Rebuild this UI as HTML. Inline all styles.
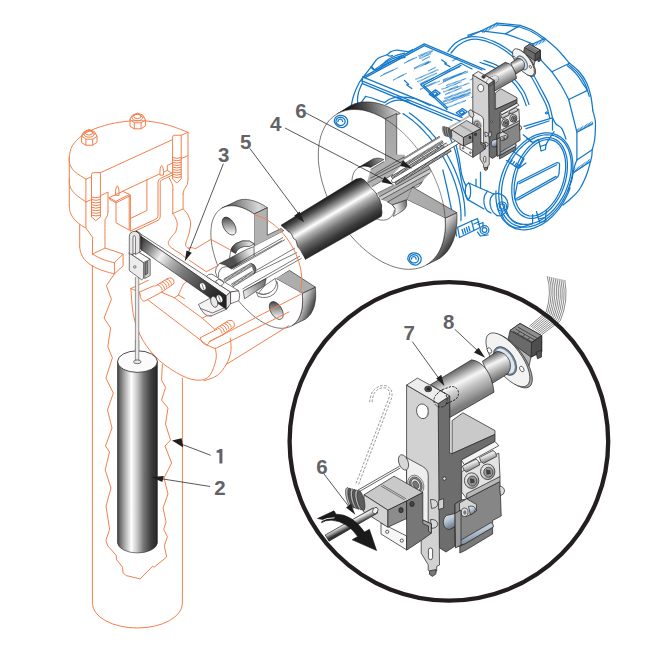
<!DOCTYPE html>
<html><head><meta charset="utf-8"><title>Level transmitter diagram</title>
<style>
html,body{margin:0;padding:0;background:#fff;}
body{width:648px;height:653px;overflow:hidden;font-family:"Liberation Sans",sans-serif;}
svg{display:block;}
.o{fill:none;stroke:#F3804E;stroke-width:1;stroke-linejoin:round;stroke-linecap:round;}
.b{fill:none;stroke:#1479C9;stroke-width:1.25;stroke-linejoin:round;stroke-linecap:round;}
.k{fill:none;stroke:#231F20;stroke-width:0.8;stroke-linejoin:round;stroke-linecap:round;}
.lab{font-family:"Liberation Sans",sans-serif;font-weight:bold;font-size:20.5px;fill:#626366;}
.ld{stroke:#231F20;stroke-width:0.75;fill:none;}
.ah{fill:#231F20;stroke:none;}
</style></head><body>
<svg width="648" height="653" viewBox="0 0 648 653">
<rect width="648" height="653" fill="#fff"/>
<!-- defs -->
<defs>
<linearGradient id="gFloat" x1="117.5" y1="0" x2="157.4" y2="0" gradientUnits="userSpaceOnUse">
<stop offset="0" stop-color="#3c3c3c"/><stop offset="0.06" stop-color="#6a6a6a"/><stop offset="0.2" stop-color="#b5b5b5"/><stop offset="0.35" stop-color="#ffffff"/><stop offset="0.5" stop-color="#c4c4c4"/><stop offset="0.66" stop-color="#747474"/><stop offset="0.84" stop-color="#3e3e3e"/><stop offset="1" stop-color="#262626"/>
</linearGradient>
<linearGradient id="gTube" x1="318.6" y1="202.2" x2="340.4" y2="239.2" gradientUnits="userSpaceOnUse">
<stop offset="0" stop-color="#1c1c1c"/><stop offset="0.12" stop-color="#4a4a4a"/><stop offset="0.28" stop-color="#a8a8a8"/><stop offset="0.4" stop-color="#ffffff"/><stop offset="0.52" stop-color="#b4b4b4"/><stop offset="0.7" stop-color="#6c6c6c"/><stop offset="0.88" stop-color="#3a3a3a"/><stop offset="1" stop-color="#262626"/>
</linearGradient>
<linearGradient id="gLever" x1="140" y1="240" x2="200" y2="280" gradientUnits="userSpaceOnUse">
<stop offset="0" stop-color="#3a3a3a"/><stop offset="0.2" stop-color="#8a8a8a"/><stop offset="0.38" stop-color="#f0f0f0"/><stop offset="0.6" stop-color="#909090"/><stop offset="1" stop-color="#4a4a4a"/>
</linearGradient>
</defs>

<!-- mechdefs -->
<defs>
<linearGradient id="mCyl" x1="462" y1="367" x2="478" y2="398" gradientUnits="userSpaceOnUse">
<stop offset="0" stop-color="#6e6e6e"/><stop offset="0.12" stop-color="#9a9a9a"/><stop offset="0.36" stop-color="#f6f6f6"/><stop offset="0.6" stop-color="#c4c4c4"/><stop offset="0.85" stop-color="#9a9a9a"/><stop offset="1" stop-color="#7c7c7c"/></linearGradient>
<linearGradient id="mNeck" x1="490" y1="356" x2="500" y2="377" gradientUnits="userSpaceOnUse">
<stop offset="0" stop-color="#6e6e6e"/><stop offset="0.35" stop-color="#f6f6f6"/><stop offset="0.7" stop-color="#b0b0b0"/><stop offset="1" stop-color="#777"/></linearGradient>
<linearGradient id="mPin" x1="0" y1="0" x2="0.35" y2="1">
<stop offset="0" stop-color="#e8eef4"/><stop offset="0.5" stop-color="#b8c6d4"/><stop offset="1" stop-color="#6f7f90"/></linearGradient>
<linearGradient id="mRoll" x1="0" y1="0" x2="0.5" y2="1">
<stop offset="0" stop-color="#555"/><stop offset="0.45" stop-color="#eee"/><stop offset="1" stop-color="#666"/></linearGradient>
<linearGradient id="mRod" x1="346" y1="520" x2="350" y2="528" gradientUnits="userSpaceOnUse">
<stop offset="0" stop-color="#3a3a3a"/><stop offset="0.35" stop-color="#f2f2f2"/><stop offset="0.65" stop-color="#a0a0a0"/><stop offset="1" stop-color="#333"/></linearGradient>
<radialGradient id="mScr" cx="0.4" cy="0.4" r="0.7"><stop offset="0" stop-color="#fff"/><stop offset="0.6" stop-color="#d0d0d0"/><stop offset="1" stop-color="#777"/></radialGradient>
<g id="mech">
<path d="M510 330.5 L520 323.4 L541.7 335.6 L541.7 351.8 L531 357 L524 366 L512 352 L508 340 Z" fill="#6a6a6a" stroke="#231F20" stroke-width="0.7" stroke-linejoin="round" vector-effect="non-scaling-stroke"/>
<path d="M514 345 L531 357 L529 366 L516 356 Z" fill="#b5b5b5" stroke="#231F20" stroke-width="0.7" stroke-linejoin="round" vector-effect="non-scaling-stroke"/>
<path d="M510 330.5 L520 323.4 L541.7 335.6 L531.5 342.6 Z" fill="#8f8f8f" stroke="#231F20" stroke-width="0.7" stroke-linejoin="round" vector-effect="non-scaling-stroke"/>
<path d="M531.5 342.6 L541.7 335.6 L541.7 351.8 L531 357 Z" fill="#4e4e4e" stroke="#231F20" stroke-width="0.7" stroke-linejoin="round" vector-effect="non-scaling-stroke"/>
<path d="M513 331 L533 342.5 M515.5 329 L535.5 340.5 M518 327.2 L538 338.6 M517 334 L520 331.6 M522 337 L525 334.6 M527 340 L530 337.6" stroke="#333" stroke-width="0.8" fill="none"/>
<path d="M536 352.5 L541.5 350 L541.5 357 L537.5 358.8 Z" fill="#555" stroke="#231F20" stroke-width="0.7" stroke-linejoin="round" vector-effect="non-scaling-stroke"/>
<ellipse cx="510.4" cy="361" rx="32" ry="13.6" transform="rotate(53.4 510.4 361)" fill="#a4a4a4" stroke="#231F20" stroke-width="0.7" stroke-linejoin="round" vector-effect="non-scaling-stroke"/>
<ellipse cx="507.9" cy="359.8" rx="32" ry="13.6" transform="rotate(53.4 507.9 359.8)" fill="#f3f3f3" stroke="#231F20" stroke-width="0.7" stroke-linejoin="round" vector-effect="non-scaling-stroke"/>
<ellipse cx="489.4" cy="350.5" rx="1.9" ry="3" transform="rotate(-30 489.4 350.5)" fill="#fff" stroke="#231F20" stroke-width="0.7" stroke-linejoin="round" vector-effect="non-scaling-stroke"/>
<ellipse cx="521.8" cy="369" rx="1.9" ry="3" transform="rotate(-30 521.8 369)" fill="#fff" stroke="#231F20" stroke-width="0.7" stroke-linejoin="round" vector-effect="non-scaling-stroke"/>
<ellipse cx="505" cy="361" rx="15" ry="8.6" transform="rotate(58 505 361)" fill="#dfe6ec" stroke="#6f8aa0" stroke-width="2"/>
<ellipse cx="505" cy="361" rx="15.9" ry="9.5" transform="rotate(58 505 361)" fill="none" stroke="#231F20" stroke-width="0.5"/>
<path d="M482.4 361.3 L497.1 351.3 Q505.5 352 509.5 360.5 Q512 368 507.9 373.6 L492 383.5 Z" fill="url(#mNeck)" stroke="#231F20" stroke-width="0.7" stroke-linejoin="round" vector-effect="non-scaling-stroke"/>
<path d="M452.1 420.6 L462.9 412.8 L495 430.6 L495 434.4 L452.1 453.7 Z" fill="#c9c9c9" stroke="#231F20" stroke-width="0.7" stroke-linejoin="round" vector-effect="non-scaling-stroke"/>
<path d="M438.2 403.6 L449.8 395.9 L449.8 453 L452.1 453.7 L495 434.4 L495 441.5 L461.4 460.1 L461.4 500 L455 504 L455 546 L446 552 L439.6 548 L438.2 500 Z" fill="#6d6d6d" stroke="#231F20" stroke-width="0.7" stroke-linejoin="round" vector-effect="non-scaling-stroke"/>
<circle cx="444.4" cy="478.6" r="1.7" fill="#ddd" stroke="#231F20" stroke-width="0.7" stroke-linejoin="round" vector-effect="non-scaling-stroke"/>
<path d="M461.4 460.1 L495 441.5 L498.8 445.7 L464.2 464.6 Z" fill="#f4f4f4" stroke="#231F20" stroke-width="0.7" stroke-linejoin="round" vector-effect="non-scaling-stroke"/>
<path d="M461.7 471.6 L498.8 453.1 L500 476.5 L466.7 498.8 L461.7 492 Z" fill="#e3e3e3" stroke="#231F20" stroke-width="0.7" stroke-linejoin="round" vector-effect="non-scaling-stroke"/>
<path d="M462.5 466 L476 459 Q479.5 460.5 479.6 465 L466.5 472 Q462.8 470.5 462.5 466 Z" fill="url(#mRoll)" stroke="#231F20" stroke-width="0.7" stroke-linejoin="round" vector-effect="non-scaling-stroke"/>
<path d="M479.5 457.4 L493 450.4 Q496.5 451.8 496.6 456.4 L483.5 463.4 Q479.8 461.8 479.5 457.4 Z" fill="url(#mRoll)" stroke="#231F20" stroke-width="0.7" stroke-linejoin="round" vector-effect="non-scaling-stroke"/>
<ellipse cx="471.6" cy="480.6" rx="7.2" ry="7.8" fill="url(#mScr)" stroke="#231F20" stroke-width="0.7" stroke-linejoin="round" vector-effect="non-scaling-stroke"/>
<ellipse cx="472.20000000000005" cy="481.0" rx="4.6" ry="5" fill="#9a9a9a" stroke="#231F20" stroke-width="0.7" stroke-linejoin="round" vector-effect="non-scaling-stroke"/>
<path d="M470.20000000000005 478.6 L474.0 479.40000000000003 L474.40000000000003 482.6 L470.8 483.20000000000005 Z" fill="#444" stroke="#222" stroke-width="0.4"/>
<ellipse cx="487.7" cy="471.8" rx="7.2" ry="7.8" fill="url(#mScr)" stroke="#231F20" stroke-width="0.7" stroke-linejoin="round" vector-effect="non-scaling-stroke"/>
<ellipse cx="488.3" cy="472.2" rx="4.6" ry="5" fill="#9a9a9a" stroke="#231F20" stroke-width="0.7" stroke-linejoin="round" vector-effect="non-scaling-stroke"/>
<path d="M486.3 469.8 L490.09999999999997 470.6 L490.5 473.8 L486.9 474.40000000000003 Z" fill="#444" stroke="#222" stroke-width="0.4"/>
<path d="M466.7 498.8 L500 481.5 L501.2 516 L492.6 520.5 L492.6 527 L459.8 546.5 L455.5 546 L455 504 L461.4 500 Z" fill="#868686" stroke="#231F20" stroke-width="0.7" stroke-linejoin="round" vector-effect="non-scaling-stroke"/>
<path d="M466.7 498.8 L500 481.5 L500 476.5 L466.7 493.6 Z" fill="#b8b8b8" stroke="#231F20" stroke-width="0.7" stroke-linejoin="round" vector-effect="non-scaling-stroke"/>
<path d="M499.5 486 Q504.5 487 504.5 491 Q504.5 494.5 500.5 495.6 Z" fill="#ddd" stroke="#231F20" stroke-width="0.7" stroke-linejoin="round" vector-effect="non-scaling-stroke"/>
<path d="M466.7 498.8 L476.5 504.5 L476.5 511 L466.7 516.5 L459.5 512.5 L459.5 503 Z" fill="#d6d6d6" stroke="#231F20" stroke-width="0.7" stroke-linejoin="round" vector-effect="non-scaling-stroke"/>
<ellipse cx="464.6" cy="512.3" rx="3.4" ry="4.2" fill="#e4e4e4" stroke="#231F20" stroke-width="0.7" stroke-linejoin="round" vector-effect="non-scaling-stroke"/><ellipse cx="464.8" cy="512.5" rx="1.6" ry="2.2" fill="#777" stroke="none"/>
<path d="M468.5 506.5 Q474.5 505 475.5 509 Q475.5 513 470.5 515 Z" fill="url(#mPin)" stroke="#231F20" stroke-width="0.7" stroke-linejoin="round" vector-effect="non-scaling-stroke"/>
<path d="M459.8 546.5 L492.6 527 L492.6 534 L466 550 L459.8 553 Z" fill="#7a7a7a" stroke="#231F20" stroke-width="0.7" stroke-linejoin="round" vector-effect="non-scaling-stroke"/>
<path d="M462.5 539.2 L491 522.6 Q493.6 523.6 493.4 527 L465.5 543.6 Q460.5 546 459.6 543.5 Q459.6 540.5 462.5 539.2 Z" fill="url(#mPin)" stroke="#231F20" stroke-width="0.7" stroke-linejoin="round" vector-effect="non-scaling-stroke"/>
<path d="M446.5 515.5 Q442.5 518.5 443.6 524.5 Q445 529.5 449.5 529.5 L455 526.8 L455 513.5 Z" fill="url(#mPin)" stroke="#231F20" stroke-width="0.7" stroke-linejoin="round" vector-effect="non-scaling-stroke"/>
<path d="M455 513.5 L461 510 L461 545 L455.5 548 Z" fill="#9a9a9a" stroke="#231F20" stroke-width="0.7" stroke-linejoin="round" vector-effect="non-scaling-stroke"/>
<path d="M406.6 385.1 L438.2 403.6 L439.5 565 L436.7 566.4 L436.7 571 L432.8 573.3 L428.2 570.2 L428.2 564.8 L421.2 553.2 L421.2 530 L406.6 520 Z" fill="#d2d2d2" stroke="#231F20" stroke-width="0.7" stroke-linejoin="round" vector-effect="non-scaling-stroke"/>
<path d="M406.6 385.1 L417.4 378.1 L449.8 395.9 L438.2 403.6 Z" fill="#ededed" stroke="#231F20" stroke-width="0.7" stroke-linejoin="round" vector-effect="non-scaling-stroke"/>
<path d="M430.5 384.7 L471.6 359.8 Q479.5 360.8 486 369 Q492.5 378 494 392.2 L449.8 417.5 L449.8 395.9 L441 391 Z" fill="url(#mCyl)" stroke="#231F20" stroke-width="0.7" stroke-linejoin="round" vector-effect="non-scaling-stroke"/>
<path d="M436.5 394.5 Q433.2 397.5 434.2 402.5 Q436 407.5 441.5 407 Q445.5 406.4 446.2 404 L455.5 399.5 Q459.5 396 458.2 391 Q456.5 386.6 451.5 386.4 L441 390 Z M446.2 404 Q448.3 399 445.8 394.6 Q443.6 391.2 441 390" fill="none" stroke="#231F20" stroke-width="1" stroke-dasharray="2.2 1.3"/>
<ellipse cx="422.5" cy="411.3" rx="5.9" ry="7.4" transform="rotate(-12 422.5 411.3)" fill="#fff" stroke="#231F20" stroke-width="0.7" stroke-linejoin="round" vector-effect="non-scaling-stroke"/>
<path d="M427.5 406.5 Q429.5 411.5 426.5 417" stroke="#888" stroke-width="1.1" fill="none"/>
<ellipse cx="428.2" cy="388.9" rx="3.5" ry="2.9" fill="#555" stroke="#231F20" stroke-width="0.7" stroke-linejoin="round" vector-effect="non-scaling-stroke"/><ellipse cx="428.4" cy="388.9" rx="1.8" ry="1.4" fill="#222"/>
<rect x="428.4" y="548" width="4.2" height="11.6" rx="2.1" fill="#fff" stroke="#231F20" stroke-width="0.7" stroke-linejoin="round" vector-effect="non-scaling-stroke"/>
<path d="M429.5 570.8 L436 569.6 L436 573.8 L432.4 576.4 L429.5 574.4 Z" fill="#777" stroke="#231F20" stroke-width="0.7" stroke-linejoin="round" vector-effect="non-scaling-stroke"/>
<path d="M406.6 457.7 L422.5 466.4 Q428.2 469.6 428.2 475.5 L428.2 523.3 L421.5 527 L406.6 518 Z" fill="#efefef" stroke="#231F20" stroke-width="0.7" stroke-linejoin="round" vector-effect="non-scaling-stroke"/>
<path d="M430.5 499.5 Q436.5 499 437.8 503.8 Q437.5 508 431.5 508.4 Z" fill="#d8d8d8" stroke="#231F20" stroke-width="0.7" stroke-linejoin="round" vector-effect="non-scaling-stroke"/>
<path d="M430.5 519.5 Q436.5 519 437.8 523.8 Q437.5 528 431.5 528.4 Z" fill="#d8d8d8" stroke="#231F20" stroke-width="0.7" stroke-linejoin="round" vector-effect="non-scaling-stroke"/>
<path d="M438.6 500.5 L443.6 498.5 L443.6 508 L438.6 509.5 Z" fill="#d0d0d0" stroke="#231F20" stroke-width="0.7" stroke-linejoin="round" vector-effect="non-scaling-stroke"/>
<ellipse cx="403.5" cy="462.4" rx="4.6" ry="8" transform="rotate(-20 403.5 462.4)" fill="#d6d6d6" stroke="#231F20" stroke-width="0.7" stroke-linejoin="round" vector-effect="non-scaling-stroke"/>
<ellipse cx="415.8" cy="484.8" rx="7.6" ry="10" transform="rotate(-25 415.8 484.8)" fill="#e6e6e6" stroke="#231F20" stroke-width="0.5"/>
<ellipse cx="415.8" cy="484.8" rx="6" ry="8.2" transform="rotate(-25 415.8 484.8)" fill="#8a8a8a" stroke="#231F20" stroke-width="0.5"/>
<ellipse cx="415.8" cy="484.8" rx="4.4" ry="6.4" transform="rotate(-25 415.8 484.8)" fill="#e2e2e2" stroke="#231F20" stroke-width="0.5"/>
<ellipse cx="415.8" cy="484.8" rx="2.6" ry="4" transform="rotate(-25 415.8 484.8)" fill="#777" stroke="#231F20" stroke-width="0.5"/>
<path d="M381 523 L381 534 L406.6 549.8 L406.6 536 Z" fill="#f6f6f6" stroke="#231F20" stroke-width="0.7" stroke-linejoin="round" vector-effect="non-scaling-stroke"/>
<circle cx="387.2" cy="531.8" r="1.6" fill="#fff" stroke="#231F20" stroke-width="0.7" stroke-linejoin="round" vector-effect="non-scaling-stroke"/><circle cx="401.8" cy="540.6" r="1.6" fill="#fff" stroke="#231F20" stroke-width="0.7" stroke-linejoin="round" vector-effect="non-scaling-stroke"/>
<path d="M364 494.8 L394.1 476.2 L422.8 492.5 L408.1 500.2 L387.9 510.2 Z" fill="#c9c9c9" stroke="#231F20" stroke-width="0.7" stroke-linejoin="round" vector-effect="non-scaling-stroke"/>
<path d="M381 486 L404.5 499.8 M382.6 485 L406 498.8" stroke="#231F20" stroke-width="0.5" fill="none"/>
<path d="M364 494.8 L387.9 510.2 L387.9 527.2 L363.4 511.5 Z" fill="#d3d3d3" stroke="#231F20" stroke-width="0.7" stroke-linejoin="round" vector-effect="non-scaling-stroke"/>
<path d="M387.9 510.2 L406.6 501 L406.6 518.5 L387.9 527.2 Z" fill="#8c8c8c" stroke="#231F20" stroke-width="0.7" stroke-linejoin="round" vector-effect="non-scaling-stroke"/>
<path d="M406.6 501 L422.8 492.5 L422.8 520 L431.3 523.9 L431.3 533.2 L422.8 539.4 L406.6 550.2 Z" fill="#777777" stroke="#231F20" stroke-width="0.7" stroke-linejoin="round" vector-effect="non-scaling-stroke"/>
<path d="M422.8 520 L431.3 523.9 L431.3 533.2 L428.5 531.4 L428.5 526 L422.8 523.5 Z" fill="#aaa" stroke="#231F20" stroke-width="0.7" stroke-linejoin="round" vector-effect="non-scaling-stroke"/>
<ellipse cx="401" cy="510.2" rx="2.2" ry="2.6" fill="#444" stroke="#231F20" stroke-width="0.7" stroke-linejoin="round" vector-effect="non-scaling-stroke"/><ellipse cx="412" cy="504" rx="2.2" ry="2.6" fill="#444" stroke="#231F20" stroke-width="0.7" stroke-linejoin="round" vector-effect="non-scaling-stroke"/>
<path d="M357.8 490.2 L399.5 466.2 M358.6 492 L400.2 468" stroke="#231F20" stroke-width="0.7" fill="none"/>
<ellipse cx="349.5" cy="497.5" rx="3.2" ry="10.2" transform="rotate(-14 349.5 497.5)" fill="#b5b5b5" stroke="#231F20" stroke-width="0.55"/>
<ellipse cx="351.8" cy="498.1" rx="3.2" ry="10.2" transform="rotate(-14 351.8 498.1)" fill="#5c5c5c" stroke="#231F20" stroke-width="0.55"/>
<ellipse cx="354.1" cy="498.7" rx="3.2" ry="10.2" transform="rotate(-14 354.1 498.7)" fill="#b5b5b5" stroke="#231F20" stroke-width="0.55"/>
<ellipse cx="356.4" cy="499.3" rx="3.2" ry="10.2" transform="rotate(-14 356.4 499.3)" fill="#5c5c5c" stroke="#231F20" stroke-width="0.55"/>
<ellipse cx="358.7" cy="499.9" rx="3.2" ry="10.2" transform="rotate(-14 358.7 499.9)" fill="#b5b5b5" stroke="#231F20" stroke-width="0.55"/>
<ellipse cx="361.0" cy="500.5" rx="3.2" ry="10.2" transform="rotate(-14 361.0 500.5)" fill="#5c5c5c" stroke="#231F20" stroke-width="0.55"/>
</g>
</defs>

<!-- blue -->
<g id="blue">
<path class="b" d="M363.1 77.1 L424.3 43.9 L485 69.6" />
<path class="b" d="M365.2 77.6 L424.4 45.6 L482 70" />
<path class="b" d="M363.1 77.1 L462 117.6" />
<path class="b" d="M362 80.8 L460 121" />
<path class="b" d="M362.6 83.6 L452 120.4" />
<path class="b" d="M363.1 77.1 L362 80.8 L362.6 83.6" />
<path class="b" d="M460.9 63.2 L420.8 84.8 L447 109.5 M460.9 63.2 L472 69" />
<path class="b" d="M461 65.4 L423.4 85.2 L447.5 107.6" />
<path class="b" d="M404.5 80.5 L408.6 84.4 L406.8 84.9 L411.8 88.6" stroke-width="1.2"/>
<path class="b" d="M441.5 59.8 L446.4 63.2 L444.6 63.8 L450 66.6" stroke-width="1.2"/>
<path class="b" d="M429.2 94.19999999999999 L435.5 89.8 L440.2 93.19999999999999 L433.9 97.6 Z M432.09999999999997 94.0 L435.3 91.8 L437.5 93.6 L434.3 95.8 Z" stroke-width="0.8"/>
<path class="b" d="M456.2 112.8 L462.5 108.4 L467.2 111.8 L460.9 116.2 Z M459.09999999999997 112.60000000000001 L462.3 110.4 L464.5 112.2 L461.3 114.4 Z" stroke-width="0.8"/>
<path d="M380.1 76.3 L397.9 67.8" stroke="#1479C9" stroke-width="1.2" stroke-dasharray="0.7 0.5" fill="none"/>
<path d="M393.2 80.2 L406.4 73.2" stroke="#1479C9" stroke-width="1.2" stroke-dasharray="0.7 0.5" fill="none"/>
<path d="M404 63.2 L417.2 57" stroke="#1479C9" stroke-width="1.2" stroke-dasharray="0.7 0.5" fill="none"/>
<path d="M418.7 56.2 L432.6 50.8" stroke="#1479C9" stroke-width="2.2" stroke-dasharray="0.7 0.5" fill="none"/>
<path d="M419.5 58.4 L431 53.6" stroke="#1479C9" stroke-width="1.6" stroke-dasharray="0.7 0.5" fill="none"/>
<path d="M414.1 68.6 L429.5 61.6" stroke="#1479C9" stroke-width="2.2" stroke-dasharray="0.7 0.5" fill="none"/>
<path d="M415.6 79.4 L438.8 69.4" stroke="#1479C9" stroke-width="1.4" stroke-dasharray="0.7 0.5" fill="none"/>
<path d="M417.5 81.8 L437 73" stroke="#1479C9" stroke-width="1.4" stroke-dasharray="0.7 0.5" fill="none"/>
<path d="M420 84 L434 77.6" stroke="#1479C9" stroke-width="1.4" stroke-dasharray="0.7 0.5" fill="none"/>
<path d="M420.2 89.4 L440 80.9" stroke="#1479C9" stroke-width="1.2" stroke-dasharray="0.7 0.5" fill="none"/>
<path d="M438.5 84.8 L466.3 70.9" stroke="#1479C9" stroke-width="1.0" stroke-dasharray="0.7 0.5" fill="none"/>
<path d="M443.1 81.7 L461.7 73.2" stroke="#1479C9" stroke-width="1.4" stroke-dasharray="0.7 0.5" fill="none"/>
<path d="M441.6 89.4 L461.7 81.7" stroke="#1479C9" stroke-width="1.4" stroke-dasharray="0.7 0.5" fill="none"/>
<path d="M443.5 92 L458 86" stroke="#1479C9" stroke-width="1.4" stroke-dasharray="0.7 0.5" fill="none"/>
<path d="M445 94.6 L462 87.6" stroke="#1479C9" stroke-width="1.4" stroke-dasharray="0.7 0.5" fill="none"/>
<path d="M443.1 101.8 L470.9 92.5" stroke="#1479C9" stroke-width="2.2" stroke-dasharray="0.7 0.5" fill="none"/>
<path d="M446.2 108 L466.3 100.2" stroke="#1479C9" stroke-width="1.4" stroke-dasharray="0.7 0.5" fill="none"/>
<path d="M452 99.4 L466 94.6" stroke="#1479C9" stroke-width="1.2" stroke-dasharray="0.7 0.5" fill="none"/>
<path d="M441.5 73.9 L460 66.9" stroke="#1479C9" stroke-width="1.2" stroke-dasharray="0.7 0.5" fill="none"/>
<path d="M443.1 80.1 L467.8 71.6" stroke="#1479C9" stroke-width="2.0" stroke-dasharray="0.7 0.5" fill="none"/>
<path d="M446.2 85.5 L466.2 78.5" stroke="#1479C9" stroke-width="1.3" stroke-dasharray="0.7 0.5" fill="none"/>
<path d="M449.3 90.1 L469.3 83.1" stroke="#1479C9" stroke-width="1.3" stroke-dasharray="0.7 0.5" fill="none"/>
<path d="M444.6 98.6 L470.9 89.3" stroke="#1479C9" stroke-width="2.0" stroke-dasharray="0.7 0.5" fill="none"/>
<path d="M443.1 104.8 L469.3 94.7" stroke="#1479C9" stroke-width="1.3" stroke-dasharray="0.7 0.5" fill="none"/>
<path d="M383 74.5 L393 69.8" stroke="#1479C9" stroke-width="1.0" stroke-dasharray="0.7 0.5" fill="none"/>
<path d="M398 77.6 L404 74.6" stroke="#1479C9" stroke-width="1.0" stroke-dasharray="0.7 0.5" fill="none"/>
<path d="M407.5 61.4 L414 58.2" stroke="#1479C9" stroke-width="1.0" stroke-dasharray="0.7 0.5" fill="none"/>
<path d="M422 60.4 L430 56.6" stroke="#1479C9" stroke-width="1.3" stroke-dasharray="0.7 0.5" fill="none"/>
<path d="M425 64.4 L431 61.6" stroke="#1479C9" stroke-width="1.3" stroke-dasharray="0.7 0.5" fill="none"/>
<path d="M428 71 L436 67.2" stroke="#1479C9" stroke-width="1.2" stroke-dasharray="0.7 0.5" fill="none"/>
<path d="M424 87 L436 81.8" stroke="#1479C9" stroke-width="1.2" stroke-dasharray="0.7 0.5" fill="none"/>
<path d="M452 61 L458 58" stroke="#1479C9" stroke-width="1.2" stroke-dasharray="0.7 0.5" fill="none"/>
<path d="M470 80 L474 78" stroke="#1479C9" stroke-width="1.2" stroke-dasharray="0.7 0.5" fill="none"/>
<path d="M471 97.5 L477 95" stroke="#1479C9" stroke-width="1.2" stroke-dasharray="0.7 0.5" fill="none"/>
<path class="b" d="M363.1 77.1 C362.3 78.2 360 81 358.5 84 C357 87 355 91.5 353.9 94.8 C352.8 98.1 352.1 101.5 351.6 104 C351.1 106.5 350.9 109 350.8 110" />
<path class="b" d="M361.8 84 C361.2 85.5 359.1 90.2 358.4 93 C357.7 95.8 357.4 99.1 357.5 101 C357.6 102.9 358 105.3 359.3 104.5 C360.6 103.7 364.5 97.8 365.5 96.4" />
<path class="b" d="M363.1 77.1 C364.5 75.3 369.2 69.4 371.6 66.3 C374.1 63.2 375.2 60.4 377.8 58.5 C380.4 56.6 384.8 55.9 387 54.7 C389.2 53.6 389.3 52.4 391 51.6 C392.7 50.8 394.2 50 397 50 C399.8 50 405.4 51.7 408 51.6 C410.6 51.5 411.8 49.9 412.5 49.5" />
<path class="b" d="M371 67 C371.6 67.5 373.1 69.7 374.5 70 C375.9 70.3 377.5 70.1 379.4 68.6 C381.3 67.1 383.4 63.1 386 61 C388.6 58.9 391.9 57.3 395 56 C398.1 54.7 403.2 53.6 404.8 53.1" />
<path class="b" d="M374.5 70 C375.8 69.1 379.1 66.3 382 64.5 C384.9 62.7 388.5 60.5 392 59 C395.5 57.5 401.2 55.9 403 55.3" />
<path class="b" d="M379.4 68.6 C380.7 67.7 384.1 64.6 387 63 C389.9 61.4 394 59.9 397 59 C400 58.1 403.7 57.7 405 57.4" />
<path class="b" d="M371.6 66.3 L374.5 70 M387 54.7 Q389 57 392.5 55.6" />
<path class="b" d="M365.5 96.4 C366.6 96.7 369.6 97.2 372 98 C374.4 98.8 377.9 100.2 380 101 C382.1 101.8 384 102.2 384.8 102.5" />
<path class="b" d="M384.8 102.5 C385.7 101.9 387.9 99.9 390 99 C392.1 98.1 394.4 97.4 397.1 97.1 C399.8 96.8 402.9 97.1 406 97.4 C409.1 97.7 414 98.5 415.6 98.7" />
<path class="b" d="M386 104.5 C387 104 389.8 102 392 101.3 C394.2 100.5 396.2 100 399 100 C401.8 100 407.3 100.8 409 101" />
<path class="b" d="M397.1 97.1 L421 108 M415.6 98.7 L430 105.5" />
<path class="b" d="M403 113.6 L405.5 115.2 L407.9 116.9 L410.3 118.7 L412.7 120.6 L415 122.6 L417.4 124.6 L419.7 126.8 L421.9 129 L424.2 131.4 L426.3 133.8 L428.5 136.2 L430.6 138.8 L432.7 141.4 L434.7 144 L436.6 146.7 L438.5 149.5 L440.3 152.3 L442.1 155.2 L443.8 158.1 L445.4 161 L447 164 L448.5 167 L449.9 170 L451.3 173.1 L452.5 176.1 L453.7 179.2 L454.8 182.3 L455.8 185.3 L456.7 188.4 L457.6 191.5 L458.3 194.5 L459 197.5 L459.5 200.5 L460 203.5 L460.4 206.4 L460.7 209.4 L460.9 212.2 L461 215.1 L461 217.8 L460.9 220.6" />
<path class="b" d="M409.3 113 L411.6 114.6 L413.8 116.3 L416.1 118.1 L418.4 120 L420.6 122 L422.8 124 L425 126.1 L427.1 128.3 L429.3 130.5 L431.3 132.9 L433.4 135.3 L435.4 137.7 L437.3 140.2 L439.2 142.8 L441.1 145.4 L442.8 148 L444.6 150.7 L446.3 153.5 L447.9 156.2 L449.4 159 L450.9 161.9 L452.4 164.7 L453.7 167.6 L455 170.5 L456.2 173.4 L457.4 176.4 L458.4 179.3 L459.4 182.2 L460.4 185.1 L461.2 188.1 L461.9 191 L462.6 193.9 L463.2 196.8 L463.7 199.6 L464.2 202.4 L464.5 205.2 L464.7 208 L464.9 210.7 L465 213.4 L465 216.1" />
<path class="b" d="M447.8 51.6 C449.1 50.2 452.4 45.4 455.5 43.1 C458.6 40.8 462.4 38.7 466.3 37.7 C470.2 36.7 474 36.4 478.6 37 C483.2 37.6 489.5 39.7 494.1 41.6 C498.7 43.5 502.1 45.5 506.4 48.5 C510.7 51.5 515.7 55.4 520 59.5 C524.3 63.6 528.4 67.9 532 73 C535.6 78.1 538.9 84.8 541.7 90 C544.5 95.2 547.2 99.9 549 104.5 C550.8 109.1 551.9 115.6 552.5 117.8" />
<path class="b" d="M451 53 C452.2 51.8 455.2 47.7 458 45.6 C460.8 43.5 464.1 41.3 467.5 40.3 C470.9 39.3 474.4 38.8 478.6 39.4 C482.9 40 488.6 41.9 493 43.8 C497.4 45.7 500.8 47.6 505 50.6 C509.2 53.6 513.8 57.4 518 61.5 C522.2 65.6 526.4 69.9 530 75 C533.6 80.1 536.8 86.8 539.5 92 C542.2 97.2 544.8 101.6 546.5 106 C548.2 110.4 549.2 116.4 549.8 118.5" />
<path class="b" d="M467.8 35.4 L481.5 30.8" />
<path class="b" d="M466.3 37.7 L481.5 30.8 L497 23.1" />
<path d="M482.3 32.2 L497.6 24.6" stroke="#1479C9" stroke-width="2.8" stroke-dasharray="0.8 0.7" fill="none"/>
<path class="b" d="M481.5 30.8 L505.5 33.9 L520.1 25.4 L497 23.1" />
<path class="b" d="M520.1 25.4 C522.2 26.2 528.9 28.3 533 30.5 C537.1 32.7 542.8 37.2 544.8 38.5" />
<path class="b" d="M519.6 27 C521.7 27.8 528.3 29.9 532.3 32 C536.3 34.1 541.9 38.5 543.8 39.8" stroke-width="0.8"/>
<path class="b" d="M497 24.8 C498.8 24.9 504.4 25.2 508 25.6 C511.6 26 516.8 26.8 518.5 27" stroke-width="0.8"/>
<path class="b" d="M505.5 33.9 C507.9 34.8 515.5 37.3 520 39 C524.5 40.7 530.4 43.2 532.5 44" />
<path class="b" d="M532.5 44 L544.8 38.5" />
<path d="M533.3 45.4 L545.4 40" stroke="#1479C9" stroke-width="2.8" stroke-dasharray="0.8 0.7" fill="none"/>
<path class="b" d="M532.5 44 L541.7 60.9 L551.8 71.7 L569.5 63.2" />
<path class="b" d="M544.8 38.5 C546.8 40.2 552.9 44.9 557 49 C561.1 53.1 567.4 60.8 569.5 63.2" />
<path class="b" d="M569.5 63.2 C571.1 64.6 576.2 68.3 579 71.5 C581.8 74.7 584.5 78.4 586.5 82.5 C588.5 86.6 589.8 91.4 590.8 96 C591.8 100.6 592.5 107.7 592.8 110" />
<path class="b" d="M568.7 99.5 L587.6 90.4" />
<path class="b" d="M568.3 64.4 C569.8 65.8 574.8 69.4 577.6 72.6 C580.4 75.8 583.1 79.4 585 83.4 C586.9 87.4 588.5 94.2 589.2 96.4" stroke-width="0.8"/>
<path class="b" d="M567.2 65.6 C568.7 67 573.5 70.7 576.2 73.8 C578.9 76.9 581.6 81.6 583.5 84.4 C585.4 87.2 586.9 89.4 587.6 90.4" stroke-width="0.8"/>
<path class="b" d="M551.8 71.7 C553.3 73.9 558.2 80.4 561 85 C563.8 89.6 567.4 97.1 568.7 99.5" />
<path class="b" d="M568.7 99.5 L576.9 132.2 L592.6 123.9" />
<path d="M577.4 130.6 L592.8 122.4" stroke="#1479C9" stroke-width="2.8" stroke-dasharray="0.8 0.7" fill="none"/>
<path class="b" d="M592.6 110 C593 111.7 594.7 116.9 595.2 120 C595.7 123.1 595.5 125.2 595.4 128.5 C595.3 131.8 595.1 136.4 594.6 140 C594.1 143.6 592.6 148.2 592.2 149.8" />
<path class="b" d="M592.2 149.8 L576.9 160 M576.9 132.2 L576.9 160" />
<path class="b" d="M576.9 160 C576.5 161.1 575.1 164.3 574.5 166.5 C573.9 168.7 573.3 171.9 573.1 173" />
<path d="M573.6 171.4 L590.4 160.2" stroke="#1479C9" stroke-width="2.8" stroke-dasharray="0.8 0.7" fill="none"/>
<path class="b" d="M573.1 173 L590.5 161.5" />
<path class="b" d="M592.2 149.8 C592.1 150.8 592.1 154.1 591.8 156 C591.5 157.9 591.4 158.3 590.5 161.5 C589.6 164.7 588.4 170.2 586.5 175 C584.6 179.8 581.7 186 579 190 C576.3 194 573.1 196.5 570.4 199 C567.7 201.5 564.2 204 563 205" />
<path class="b" d="M573.1 173 C572.8 174.3 572.4 178.1 571.5 181 C570.6 183.9 568.6 188.9 568 190.5" />
<path class="b" d="M480 62.5 C482.5 63.4 489.9 65.1 495 68 C500.1 70.9 506.6 75.8 510.9 80 C515.2 84.2 518.4 88.7 521 93 C523.6 97.3 525.4 103.6 526.3 105.7" />
<path class="b" d="M484 60.5 C486.3 61.4 493.2 63.1 498 66 C502.8 68.8 508.8 73.4 513 77.6 C517.2 81.8 520.8 86.5 523.5 91 C526.2 95.5 528.1 102.2 529 104.5" />
<path class="b" d="M552.5 117.8 C553.1 118.8 554.5 122.2 556 124 C557.5 125.8 560.1 126.1 561.8 128.6 C563.5 131.1 565.3 137.3 566 139" />
<path class="b" d="M552.5 117.8 L524 126.4 M552.5 117.8 L552.5 130.1 M549 121 L526 128.6" />
<path class="b" d="M546.4 112 a1 1 0 1 0 0.1 0" />
<path class="b" d="M557.3 135.2 L559.3 136.3 L561.3 137.6 L563.1 139.2 L564.8 140.9 L566.3 142.8 L567.7 144.9 L568.9 147.2 L570 149.7 L570.9 152.2 L571.7 155 L572.2 157.8 L572.6 160.8 L572.8 163.8 L572.9 166.9 L572.7 170.1 L572.4 173.4 L571.9 176.6 L571.2 179.9 L570.3 183.2 L569.3 186.5 L568.1 189.7 L566.7 192.9 L565.2 196 L563.6 199.1 L561.8 202 L559.9 204.9 L557.9 207.6 L555.8 210.2 L553.5 212.7 L551.2 214.9 L548.8 217.1 L546.4 219 L543.9 220.7 L541.3 222.3 L538.8 223.6 L536.2 224.8 L533.6 225.7 L531 226.4 L528.5 226.8 L526 227.1 L523.5 227.1 L521.1 226.9 L518.7 226.4 L516.5 225.7 L514.3 224.8 L512.3 223.7 L510.3 222.4 L508.5 220.8 L506.8 219.1 L505.3 217.2 L503.9 215.1 L502.7 212.8 L501.6 210.3 L500.7 207.8 L499.9 205 L499.4 202.2 L499 199.2 L498.8 196.2 L498.7 193.1 L498.9 189.9 L499.2 186.6 L499.7 183.4 L500.4 180.1 L501.3 176.8 L502.3 173.5 L503.5 170.3 L504.9 167.1 L506.4 164 L508 160.9 L509.8 158 L511.7 155.1 L513.7 152.4 L515.8 149.8 L518.1 147.3 L520.4 145.1 L522.8 142.9 L525.2 141 L527.7 139.3 L530.3 137.7 L532.8 136.4 L535.4 135.2 L538 134.3 L540.6 133.6 L543.1 133.2 L545.6 132.9 L548.1 132.9 L550.5 133.1 L552.9 133.6 L555.1 134.3 L557.3 135.2" />
<path class="b" d="M556.9 136.9 L558.8 137.9 L560.6 139.2 L562.3 140.6 L563.9 142.2 L565.3 144.1 L566.6 146.1 L567.8 148.2 L568.8 150.5 L569.6 153 L570.3 155.6 L570.8 158.3 L571.1 161.1 L571.3 164 L571.3 166.9 L571.2 170 L570.8 173.1 L570.3 176.2 L569.7 179.3 L568.8 182.4 L567.8 185.5 L566.7 188.6 L565.4 191.7 L564 194.7 L562.4 197.6 L560.7 200.4 L558.9 203.1 L557 205.7 L555 208.2 L552.9 210.5 L550.7 212.7 L548.4 214.8 L546.1 216.6 L543.7 218.3 L541.3 219.8 L538.9 221.1 L536.5 222.2 L534 223 L531.6 223.7 L529.2 224.2 L526.8 224.4 L524.5 224.4 L522.3 224.2 L520.1 223.8 L517.9 223.2 L515.9 222.3 L514 221.3 L512.2 220 L510.5 218.6 L508.9 217 L507.5 215.1 L506.2 213.1 L505 211 L504 208.7 L503.2 206.2 L502.5 203.6 L502 200.9 L501.7 198.1 L501.5 195.2 L501.5 192.3 L501.6 189.2 L502 186.1 L502.5 183 L503.1 179.9 L504 176.8 L505 173.7 L506.1 170.6 L507.4 167.5 L508.8 164.5 L510.4 161.6 L512.1 158.8 L513.9 156.1 L515.8 153.5 L517.8 151 L519.9 148.7 L522.1 146.5 L524.4 144.4 L526.7 142.6 L529.1 140.9 L531.5 139.4 L533.9 138.1 L536.3 137 L538.8 136.2 L541.2 135.5 L543.6 135 L546 134.8 L548.3 134.8 L550.5 135 L552.7 135.4 L554.9 136 L556.9 136.9" />
<path class="b" d="M570.1 187.8 L569.3 190 L568.4 192.3 L567.5 194.5 L566.5 196.6 L565.4 198.8 L564.2 200.9 L563 202.9 L561.7 204.9 L560.4 206.9 L559 208.8 L557.5 210.6 L556 212.4 L554.5 214.1 L552.9 215.8 L551.3 217.3 L549.6 218.8 L548 220.2 L546.2 221.5 L544.5 222.7 L542.7 223.9 L540.9 224.9 L539.1 225.8 L537.3 226.7 L535.5 227.4 L533.7 228.1 L531.9 228.6 L530.1 229.1 L528.3 229.4 L526.5 229.6 L524.8 229.8 L523 229.8 L521.3 229.7 L519.6 229.5 L518 229.2 L516.4 228.8 L514.8 228.3 L513.3 227.7 L511.8 227 L510.3 226.2 L508.9 225.2 L507.6 224.2 L506.4 223.1 L505.1 221.9 L504 220.7 L502.9 219.3 L501.9 217.8 L501 216.3 L500.1 214.7 L499.3 213 L498.6 211.3 L498 209.5 L497.4 207.6 L497 205.6 L496.6 203.6 L496.3 201.6 L496.1 199.5 L495.9 197.4 L495.9 195.2 L495.9 193 L496 190.8" />
<path class="b" d="M553.2 138.5 L555.3 139.4 L557.3 140.6 L559.2 142.1 L560.9 143.9 L562.4 146 L563.7 148.4 L564.9 150.9 L565.8 153.7 L566.6 156.7 L567.1 159.9 L567.4 163.2 L567.4 166.6 L567.3 170.2 L566.9 173.7 L566.3 177.4 L565.5 181 L564.5 184.6 L563.3 188.1 L561.9 191.6 L560.3 195 L558.5 198.2 L556.6 201.2 L554.5 204.1 L552.4 206.8 L550.1 209.2 L547.8 211.4 L545.3 213.3 L542.9 214.9 L540.4 216.2 L537.9 217.2 L535.4 217.9 L532.9 218.3 L530.5 218.4 L528.2 218.1 L526 217.5 L523.9 216.6 L521.9 215.4 L520 213.9 L518.3 212.1 L516.8 210 L515.5 207.6 L514.3 205.1 L513.4 202.3 L512.6 199.3 L512.1 196.1 L511.8 192.8 L511.8 189.4 L511.9 185.8 L512.3 182.3 L512.9 178.6 L513.7 175 L514.7 171.4 L515.9 167.9 L517.3 164.4 L518.9 161 L520.7 157.8 L522.6 154.8 L524.7 151.9 L526.8 149.2 L529.1 146.8 L531.4 144.6 L533.9 142.7 L536.3 141.1 L538.8 139.8 L541.3 138.8 L543.8 138.1 L546.3 137.7 L548.7 137.6 L551 137.9 L553.2 138.5" />
<path class="b" d="M552.8 140.4 L554.7 141.2 L556.6 142.3 L558.3 143.8 L559.8 145.4 L561.2 147.4 L562.4 149.6 L563.4 152 L564.3 154.7 L564.9 157.5 L565.4 160.5 L565.6 163.6 L565.7 166.8 L565.5 170.1 L565.1 173.5 L564.5 177 L563.7 180.4 L562.8 183.8 L561.6 187.2 L560.3 190.4 L558.8 193.6 L557.1 196.7 L555.4 199.6 L553.4 202.3 L551.4 204.8 L549.3 207.2 L547.1 209.2 L544.9 211.1 L542.6 212.6 L540.3 213.9 L538 214.9 L535.7 215.6 L533.4 215.9 L531.2 216 L529.1 215.8 L527 215.2 L525.1 214.4 L523.2 213.3 L521.5 211.8 L520 210.2 L518.6 208.2 L517.4 206 L516.4 203.6 L515.5 200.9 L514.9 198.1 L514.4 195.1 L514.2 192 L514.1 188.8 L514.3 185.5 L514.7 182.1 L515.3 178.6 L516.1 175.2 L517 171.8 L518.2 168.4 L519.5 165.2 L521 162 L522.7 158.9 L524.4 156 L526.4 153.3 L528.4 150.8 L530.5 148.4 L532.7 146.4 L534.9 144.5 L537.2 143 L539.5 141.7 L541.8 140.7 L544.1 140 L546.4 139.7 L548.6 139.6 L550.7 139.8 L552.8 140.4" />
<path class="b" d="M517.6 182.2 L556.5 162.8 Q559.8 162 559.6 165.2 L559 174 Q558.6 177 555.6 178.8 L518.5 199.6 Q514.5 201 514.6 197.5 Z" />
<path class="b" d="M519 183.6 L556.8 164.8 M516.6 198.5 L556 176.4" />
<path class="b" d="M523.2 134.8 L532.5 142.5 L538.6 139.4 L540.2 146.5 L546 144.6 L549 139 L554.1 131.7" />
<path class="b" d="M527 138.4 L531 141.6 M540.2 146.5 L541 151 L545.4 149.5 L546 144.6" />
<path class="b" d="M506.5 160.5 L518.5 168.5 L524 159 L513 151.5 M518.5 168.5 L526 163" />
<path class="b" d="M508.0 161.5 L510.0 158.6" stroke-width="0.7"/>
<path class="b" d="M510.2 163.0 L512.2 160.1" stroke-width="0.7"/>
<path class="b" d="M512.4 164.5 L514.4 161.6" stroke-width="0.7"/>
<path class="b" d="M514.6 166.0 L516.6 163.1" stroke-width="0.7"/>
<path class="b" d="M516.8 167.5 L518.8 164.6" stroke-width="0.7"/>
<path class="b" d="M536.5 211.5 L538.5 219 L545.5 217.4 L546.5 210.5 M538.5 219 L540 222.5 L546 221 L545.5 217.4" />
<path class="b" d="M532.6 223.7 L532.6 214.5 M521.5 227.4 L532.6 223.7" />
<path class="b" d="M468.7 183 L493.7 194 M467.8 199.6 L484 209" />
<path class="b" d="M468.7 183 Q465.2 184.5 465.3 191.5 Q465.6 198.5 468 199.6 Q470.8 198 470.6 191 Q470.4 184.5 468.7 183 Z" />
<path class="b" d="M487.5 191.2 C487 192 485.1 194 484.5 196 C483.9 198 483.7 200.7 484 203 C484.3 205.3 485.3 208.1 486.5 209.8 C487.7 211.5 490.2 212.5 491 213" />
<path class="b" d="M493.7 194 C493.2 194.8 491.1 196.6 490.5 198.5 C489.9 200.4 489.9 203.2 490.3 205.5 C490.7 207.8 491.9 210.3 493 212 C494.1 213.7 496.3 215 497 215.6" />
<path class="b" d="M493.7 194 C494.6 193.9 497.1 193.1 499 193.6 C500.9 194.1 503.5 195.3 505 197 C506.5 198.7 507.8 201.6 508 204 C508.2 206.4 507.1 209.6 506 211.5 C504.9 213.4 503 214.8 501.5 215.5 C500 216.2 497.8 215.6 497 215.6" />
<path class="b" d="M502 206.5 m-4.6 0 a4.6 4.6 0 1 0 9.2 0 a4.6 4.6 0 1 0 -9.2 0 M502 206.5 m-2.6 0 a2.6 2.6 0 1 0 5.2 0 a2.6 2.6 0 1 0 -5.2 0" />
<path class="b" d="M501 212.6 C501.6 213.8 502.9 217.8 504.5 220 C506.1 222.2 508.5 224.3 510.4 225.6 C512.3 226.9 514.1 227.5 516 227.8 C517.9 228.1 520.6 227.5 521.5 227.4" />
<path class="b" d="M506 210 C506.6 211.2 508 215.4 509.5 217.5 C511 219.6 512.9 221.7 515 222.8 C517.1 224 520.8 224.1 522 224.4" />
<path class="b" d="M476 179 L476 186 M480.5 172 L480.5 188" />
<path class="b" d="M442.8 170 C443.5 173 445.6 181.8 447 188 C448.4 194.2 449.7 200.7 451 207 C452.3 213.3 453.9 220.8 454.8 225.6 C455.7 230.4 456.2 234.3 456.5 236" />
<path class="b" d="M455 141 C455.7 143.8 457.8 152.2 459 158 C460.2 163.8 460.8 171.3 462 176 C463.2 180.7 465.3 184.3 466 186" />
<path class="b" d="M447 131 C448.3 134.2 452.9 143.5 455 150 C457.1 156.5 458.2 163.7 459.5 170 C460.8 176.3 461.6 183 463 188 C464.4 193 467.2 198 468 200" />
<path class="b" d="M457.6 227.4 L471.5 221 L474 230.5 L459.5 237.5 Z" />
<path class="b" d="M471.5 221 L477.5 218.6 L480 227.5 L474 230.5 M474 224 L479 221.8" />
<path class="b" d="M484.5 230 m-4.4 0 a4.4 4.4 0 1 0 8.8 0 a4.4 4.4 0 1 0 -8.8 0 M484.5 230 m-2.4 0 a2.4 2.4 0 1 0 4.8 0 a2.4 2.4 0 1 0 -4.8 0" />
<path class="b" d="M478 224.5 L483 222.5 L483 227 M477.5 232 L480.5 236 L488 235" />
<path class="b" d="M462.0 229.5 L463.4 234.0" stroke-width="0.8"/>
<path class="b" d="M464.2 228.5 L465.6 233.0" stroke-width="0.8"/>
<path class="b" d="M466.4 227.5 L467.8 232.0" stroke-width="0.8"/>
<path class="b" d="M468.6 226.5 L470.0 231.0" stroke-width="0.8"/>
</g>

<!-- bigflange -->
<g id="bigflange">
<linearGradient id="gBF1" x1="330" y1="122" x2="396" y2="110" gradientUnits="userSpaceOnUse">
<stop offset="0" stop-color="#000"/><stop offset="0.3" stop-color="#161616"/><stop offset="0.55" stop-color="#4a4a4a"/><stop offset="0.78" stop-color="#8e8e8e"/><stop offset="1" stop-color="#cdcdcd"/></linearGradient>
<linearGradient id="gBF2" x1="438" y1="228" x2="455" y2="240" gradientUnits="userSpaceOnUse">
<stop offset="0" stop-color="#e8e8e8"/><stop offset="0.35" stop-color="#b0b0b0"/><stop offset="0.7" stop-color="#6a6a6a"/><stop offset="1" stop-color="#3a3a3a"/></linearGradient>
<linearGradient id="gBFv" x1="0" y1="112" x2="0" y2="160" gradientUnits="userSpaceOnUse">
<stop offset="0" stop-color="#a2a2a2"/><stop offset="1" stop-color="#adadad"/></linearGradient>
<linearGradient id="gBFh" x1="400" y1="200" x2="455" y2="215" gradientUnits="userSpaceOnUse">
<stop offset="0" stop-color="#b0b0b0"/><stop offset="1" stop-color="#a6a6a6"/></linearGradient>
<path d="M336.9 114.1 L338.8 113 L340.8 112.1 L342.9 111.3 L345 110.7 L347.2 110.2 L349.4 109.8 L351.8 109.5 L354.1 109.5 L356.5 109.5 L359 109.7 L361.5 110 L364 110.5 L366.6 111.1 L369.2 111.8 L371.8 112.7 L374.4 113.7 L377 114.8 L379.7 116.1 L382.3 117.5 L385 119 L400.3 113.5 L397.5 111.7 L394.7 110.1 L391.9 108.6 L389.1 107.2 L386.2 106 L383.5 105 L380.7 104.1 L377.9 103.3 L375.2 102.7 L372.5 102.3 L369.9 102 L367.3 101.9 L364.8 101.9 L362.3 102.1 L359.9 102.4 L357.5 102.9 L355.3 103.6 L353.1 104.4 L350.9 105.4 L348.9 106.5 Z" fill="url(#gBF1)" stroke="#231F20" stroke-width="0.6" stroke-linejoin="round"/>
<path d="M445.1 218.2 L445.3 221.4 L445.3 224.5 L445.2 227.6 L445 230.5 L444.7 233.5 L444.3 236.3 L443.7 239 L443 241.7 L442.2 244.2 L441.4 246.7 L440.3 249 L439.2 251.3 L438 253.4 L436.7 255.4 L435.3 257.3 L433.7 259 L432.1 260.7 L430.4 262.1 L428.6 263.5 L426.7 264.7 L438.4 259.1 L440.3 257.9 L442.1 256.5 L443.8 255.1 L445.4 253.4 L447 251.7 L448.4 249.8 L449.7 247.8 L450.9 245.7 L452 243.4 L453.1 241.1 L453.9 238.6 L454.7 236.1 L455.4 233.4 L456 230.7 L456.4 227.9 L456.7 224.9 L456.9 222 L457 218.9 L457 215.8 L456.8 212.6 Z" fill="url(#gBF2)" stroke="#231F20" stroke-width="0.6" stroke-linejoin="round"/>
<path d="M385 119 L396.7 113.4 L396.7 166 L385 170 Z" fill="url(#gBFv)" stroke="#231F20" stroke-width="0.6"/>
<path d="M445.1 218.2 L456.8 212.6 L412.1 186.8 L406.6 199.7 Z" fill="url(#gBFh)" stroke="#231F20" stroke-width="0.6"/>
<path d="M445.1 218.2 L445.3 222.7 L445.3 227 L445 231.2 L444.4 235.2 L443.7 239.1 L442.7 242.8 L441.5 246.3 L440.1 249.6 L438.5 252.7 L436.6 255.5 L434.6 258.1 L432.3 260.4 L429.9 262.5 L427.3 264.3 L424.6 265.9 L421.7 267.2 L418.6 268.1 L415.4 268.8 L412.1 269.2 L408.7 269.3 L405.1 269.2 L401.5 268.7 L397.8 267.9 L394.1 266.9 L390.3 265.5 L386.5 263.9 L382.6 262.1 L378.8 259.9 L375 257.5 L371.2 254.8 L367.4 251.9 L363.7 248.8 L360 245.5 L356.5 241.9 L353 238.2 L349.6 234.3 L346.4 230.2 L343.3 226 L340.3 221.6 L337.4 217.1 L334.8 212.5 L332.3 207.9 L330 203.1 L327.8 198.4 L325.9 193.5 L324.2 188.7 L322.7 183.9 L321.4 179.1 L320.3 174.3 L319.5 169.6 L318.8 164.9 L318.4 160.4 L318.3 155.9 L318.4 151.6 L318.7 147.4 L319.2 143.4 L320 139.5 L320.9 135.8 L322.2 132.3 L323.6 129.1 L325.2 126 L327.1 123.2 L329.1 120.6 L331.4 118.2 L333.8 116.2 L336.4 114.4 L339.2 112.8 L342.1 111.6 L345.2 110.6 L348.4 109.9 L351.7 109.6 L355.1 109.5 L358.7 109.7 L362.3 110.1 L366 110.9 L369.7 112 L373.5 113.3 L377.3 115 L381.2 116.8 L385 119 L385 162 L386 190 Z" fill="#fff" stroke="none"/>
<path d="M445.1 218.2 L445.3 222.7 L445.3 227 L445 231.2 L444.4 235.2 L443.7 239.1 L442.7 242.8 L441.5 246.3 L440.1 249.6 L438.5 252.7 L436.6 255.5 L434.6 258.1 L432.3 260.4 L429.9 262.5 L427.3 264.3 L424.6 265.9 L421.7 267.2 L418.6 268.1 L415.4 268.8 L412.1 269.2 L408.7 269.3 L405.1 269.2 L401.5 268.7 L397.8 267.9 L394.1 266.9 L390.3 265.5 L386.5 263.9 L382.6 262.1 L378.8 259.9 L375 257.5 L371.2 254.8 L367.4 251.9 L363.7 248.8 L360 245.5 L356.5 241.9 L353 238.2 L349.6 234.3 L346.4 230.2 L343.3 226 L340.3 221.6 L337.4 217.1 L334.8 212.5 L332.3 207.9 L330 203.1 L327.8 198.4 L325.9 193.5 L324.2 188.7 L322.7 183.9 L321.4 179.1 L320.3 174.3 L319.5 169.6 L318.8 164.9 L318.4 160.4 L318.3 155.9 L318.4 151.6 L318.7 147.4 L319.2 143.4 L320 139.5 L320.9 135.8 L322.2 132.3 L323.6 129.1 L325.2 126 L327.1 123.2 L329.1 120.6 L331.4 118.2 L333.8 116.2 L336.4 114.4 L339.2 112.8 L342.1 111.6 L345.2 110.6 L348.4 109.9 L351.7 109.6 L355.1 109.5 L358.7 109.7 L362.3 110.1 L366 110.9 L369.7 112 L373.5 113.3 L377.3 115 L381.2 116.8 L385 119" fill="none" stroke="#231F20" stroke-width="0.6"/>
</g>
<g id="hub">
<linearGradient id="gHubT" x1="358" y1="168" x2="384" y2="160" gradientUnits="userSpaceOnUse">
<stop offset="0" stop-color="#0a0a0a"/><stop offset="0.35" stop-color="#2c2c2c"/><stop offset="0.75" stop-color="#7c7c7c"/><stop offset="1" stop-color="#a8a8a8"/></linearGradient>
<linearGradient id="gHubR" x1="392" y1="207" x2="407" y2="203" gradientUnits="userSpaceOnUse">
<stop offset="0" stop-color="#fff"/><stop offset="0.3" stop-color="#e2e2e2"/><stop offset="0.7" stop-color="#999"/><stop offset="1" stop-color="#666"/></linearGradient>
<linearGradient id="gBore" x1="412" y1="182" x2="424" y2="180" gradientUnits="userSpaceOnUse">
<stop offset="0" stop-color="#fff"/><stop offset="0.5" stop-color="#d0d0d0"/><stop offset="1" stop-color="#6e6e6e"/></linearGradient>
<path d="M412.1 186.8 L421.9 181 L423.7 174.3 Q424.6 181 418.5 186.5 Q415 188.5 412.1 186.8 Z" fill="url(#gBore)" stroke="#231F20" stroke-width="0.6" stroke-linejoin="round"/>
<path d="M392.2 204.8 L406.6 199.7 L406.6 205.7 Q405.6 208.6 403.3 210.4 L395 215.5 L393.2 216.4 L395 212 L395 208.5 Z" fill="url(#gHubR)" stroke="#231F20" stroke-width="0.6" stroke-linejoin="round"/>
<path d="M394.6 209.9 L394.1 211.5 L393.6 213 L392.9 214.4 L392.1 215.6 L391.2 216.7 L390.1 217.7 L389 218.5 L387.8 219.1 L386.5 219.6 L385.1 220 L383.7 220.1 L382.2 220.2 L380.6 220 L379 219.7 L377.4 219.2 L375.7 218.6 L374.1 217.8 L372.4 216.9 L370.7 215.8 L369.1 214.6 L367.5 213.2 L365.9 211.7 L364.4 210.2 L362.9 208.5 L361.5 206.7 L360.1 204.8 L358.9 202.9 L357.7 200.9 L356.6 198.9 L355.6 196.8 L354.8 194.7 L354 192.6 L353.4 190.5 L352.9 188.4 L352.5 186.4 L352.2 184.4 L352.1 182.4 L352.1 180.5 L352.2 178.7 L352.5 176.9 L352.9 175.3 L353.4 173.8 L354 172.3 L354.8 171.1 L355.7 169.9 L356.6 168.9 L357.7 168 L358.9 167.3 L360.2 166.7 L361.5 166.3 L362.9 166.1 L364.4 166 L365.9 166.1 L367.5 166.4 L369.2 166.8 L370.8 167.3 L377 188 L392.2 204.8 Z" fill="#fff" stroke="none"/>
<clipPath id="cpBF"><ellipse cx="381.8" cy="189.4" rx="87.7" ry="52.3" transform="rotate(59.2 381.8 189.4)"/></clipPath>
<g clip-path="url(#cpBF)">
<path d="M366.5 183.5 L370.8 169.4 L383.9 161.6 L396.6 154.4 L404.7 154.7 L406.5 160.5 L393.1 174.3 L371.9 186.8 Z" fill="#b1b1b1" stroke="none"/>
<path d="M377.4 193.2 L394.1 184.9 L446 152 L446 163 L430 172.9 L421.9 182.1 L412.1 186.8 L406.6 199.7 L392.2 204.8 L387.6 202 L381.6 199.7 L379.3 196.9 Z" fill="#adadad" stroke="none"/>
<path d="M379.3 196.9 L430 168.7 L430 172.9 L381.6 199.7 Z" fill="#cbcbcb" stroke="none"/>
<path d="M371.9 186.8 L393.1 174.3 L394.1 184.9 L377.4 193.2 Z" fill="#fff" stroke="none"/>
<path d="M370.8 169.4 L383.9 161.6" stroke="#231F20" stroke-width="0.6" fill="none"/>
<path d="M375.4 173.6 L404 157" stroke="#231F20" stroke-width="0.6" fill="none"/>
<path d="M370.4 178.2 L404 160.4" stroke="#231F20" stroke-width="0.6" fill="none"/>
<path d="M367.8 182.6 L405 163" stroke="#231F20" stroke-width="0.6" fill="none"/>
<path d="M371.9 186.8 L393.1 174.3" stroke="#231F20" stroke-width="0.6" fill="none"/>
<path d="M377.4 193.2 L394.1 184.9" stroke="#231F20" stroke-width="0.6" fill="none"/>
<path d="M379.3 196.9 L430 168.7" stroke="#231F20" stroke-width="0.6" fill="none"/>
<path d="M381.6 199.7 L430 172.9" stroke="#231F20" stroke-width="0.6" fill="none"/>
<path d="M387.6 202 L421.9 182.1" stroke="#231F20" stroke-width="0.6" fill="none"/>
<path d="M392.2 204.8 L387.6 202" stroke="#231F20" stroke-width="0.6" fill="none"/>
<path d="M392.2 204.8 L406.6 199.7" stroke="#231F20" stroke-width="0.6" fill="none"/>
</g>
<path d="M385 119 L388.1 120.9 L391.1 123 L394.1 125.2 L397.1 127.6 L400.1 130.1 L403 132.8 L405.8 135.5 L408.6 138.4 L411.4 141.5 L414 144.6 L416.6 147.9 L419.2 151.2 L421.6 154.6 L423.9 158.1 L426.2 161.7 L428.3 165.3 L430.3 169 L432.3 172.8 L434.1 176.6 L435.7 180.4 L437.3 184.2 L438.7 188.1 L440 191.9 L441.2 195.8 L442.2 199.6 L443.1 203.4 L443.8 207.2 L444.4 210.9 L444.8 214.6 L445.1 218.2" fill="none" stroke="#231F20" stroke-width="0.5"/>
<path d="M358.4 167.6 L359.1 167.2 L359.9 166.9 L360.7 166.6 L361.5 166.3 L362.3 166.2 L363.2 166.1 L364.1 166 L365 166 L365.9 166.1 L366.9 166.2 L367.8 166.4 L368.8 166.7 L369.8 167 L370.8 167.3 L383.9 159.5 L382.9 159.2 L381.9 158.9 L380.9 158.6 L380 158.4 L379 158.3 L378.1 158.2 L377.2 158.2 L376.3 158.3 L375.4 158.4 L374.6 158.5 L373.8 158.8 L373 159.1 L372.2 159.4 L371.5 159.8 Z" fill="url(#gHubT)" stroke="#231F20" stroke-width="0.6" stroke-linejoin="round"/>
<path d="M394.6 209.9 L394.1 211.5 L393.6 213 L392.9 214.4 L392.1 215.6 L391.2 216.7 L390.1 217.7 L389 218.5 L387.8 219.1 L386.5 219.6 L385.1 220 L383.7 220.1 L382.2 220.2 L380.6 220 L379 219.7 L377.4 219.2 L375.7 218.6 L374.1 217.8 L372.4 216.9 L370.7 215.8 L369.1 214.6 L367.5 213.2 L365.9 211.7 L364.4 210.2 L362.9 208.5 L361.5 206.7 L360.1 204.8 L358.9 202.9 L357.7 200.9 L356.6 198.9 L355.6 196.8 L354.8 194.7 L354 192.6 L353.4 190.5 L352.9 188.4 L352.5 186.4 L352.2 184.4 L352.1 182.4 L352.1 180.5 L352.2 178.7 L352.5 176.9 L352.9 175.3 L353.4 173.8 L354 172.3 L354.8 171.1 L355.7 169.9 L356.6 168.9 L357.7 168 L358.9 167.3 L360.2 166.7 L361.5 166.3 L362.9 166.1 L364.4 166 L365.9 166.1 L367.5 166.4 L369.2 166.8 L370.8 167.3" fill="none" stroke="#231F20" stroke-width="0.6"/>
<path d="M392.2 204.8 L395 208.5" stroke="#231F20" stroke-width="0.6" fill="none"/>
</g>

<!-- bluebolts -->
<g id="bluebolts">
<path class="b" d="M334.3 122.0 Q334.0 116.5 339.5 115.4 Q345.5 115.0 347.5 120.0 Q348.5 125.0 343.5 127.4 Q337.5 128.4 334.3 122.0 Z" />
<path class="b" d="M335.9 122.0 Q335.9 118.0 339.9 117.2 Q343.9 117.2 345.1 120.6 Q345.5 124.0 341.9 125.4 Q337.5 126.0 335.9 122.0 Z" />
<path class="b" d="M337.9 121.6 Q338.1 119.2 340.5 119.0 Q342.5 119.4 342.7 121.6" />
<path class="b" d="M407.8 259.5 Q407.5 254.0 413.0 252.9 Q419.0 252.5 421.0 257.5 Q422.0 262.5 417.0 264.9 Q411.0 265.9 407.8 259.5 Z" />
<path class="b" d="M409.4 259.5 Q409.4 255.5 413.4 254.7 Q417.4 254.7 418.6 258.1 Q419.0 261.5 415.4 262.9 Q411.0 263.5 409.4 259.5 Z" />
<path class="b" d="M411.4 259.1 Q411.6 256.7 414.0 256.5 Q416.0 256.9 416.2 259.1" />
</g>

<!-- shafts -->
<g id="shafts">
<path d="M393.6 180.6 L449 146.9" stroke="#231F20" stroke-width="10.2" fill="none" stroke-linecap="butt"/>
<path d="M393.6 180.6 L449 146.9" stroke="#dcdcdc" stroke-width="9.2" fill="none" stroke-linecap="butt"/>
<path d="M391.9 177.9 L444.3 146" stroke="#3c3c3c" stroke-width="2.6" fill="none" stroke-linecap="butt" stroke-dasharray="0.65 0.65"/>
<path d="M395.3 183.3 L450.7 149.6" stroke="#3c3c3c" stroke-width="2.6" fill="none" stroke-linecap="butt" stroke-dasharray="0.65 0.65"/>
<path d="M393.6 180.6 L458.5 141.2" stroke="#231F20" stroke-width="4.6" fill="none" stroke-linecap="round"/>
<path d="M393.6 180.6 L458.5 141.2" stroke="#fff" stroke-width="3.5" fill="none" stroke-linecap="round"/>
<path d="M405.5 161.4 L441.5 139.6" stroke="#231F20" stroke-width="8.2" fill="none" stroke-linecap="butt"/>
<path d="M405.5 161.4 L441.5 139.6" stroke="#cfcfcf" stroke-width="7.2" fill="none" stroke-linecap="butt"/>
<path d="M406.6 163.2 L442.6 141.4" stroke="#3c3c3c" stroke-width="2.4" fill="none" stroke-linecap="butt" stroke-dasharray="0.65 0.65"/>
<path d="M405 160.6 L441 138.8" stroke="#fff" stroke-width="3.0" fill="none" stroke-linecap="round"/>
<path d="M403.9 158.8 L439.9 137" stroke="#8f8f8f" stroke-width="1.4" fill="none" stroke-linecap="butt"/>
</g>

<!-- tube -->
<g id="tube">
<path d="M356.3 179.1 L361 178.2 L364.4 180.1 L367.5 183.5 L370.4 187.1 L372.6 189.2 L374.6 191.5 L376.4 193.2 L377.6 196.5 L379.6 199 L380.4 202.2 L381.6 205 L381.5 209 L382 212.5 L381.4 216.3 L305.1 259.4 L303.5 256 L301.5 254.5 L300.1 250.4 L298 248.3 L296.1 240.4 L293.5 238.5 L292 235 L290.1 232.3 L288 231.5 L286.1 229.3 L283.5 227.6 L281 225.3 Z" fill="url(#gTube)" stroke="#231F20" stroke-width="0.7" stroke-linejoin="round"/>
</g>

<!-- smallflange -->
<g id="smallflange">
<linearGradient id="gSF1" x1="218" y1="212" x2="266" y2="206" gradientUnits="userSpaceOnUse">
<stop offset="0" stop-color="#3c3c3c"/><stop offset="0.3" stop-color="#6c6c6c"/><stop offset="0.6" stop-color="#a8a8a8"/><stop offset="0.85" stop-color="#d8d8d8"/><stop offset="1" stop-color="#c4c4c4"/></linearGradient>
<linearGradient id="gSF2" x1="300" y1="300" x2="316" y2="306" gradientUnits="userSpaceOnUse">
<stop offset="0" stop-color="#e6e6e6"/><stop offset="0.4" stop-color="#a8a8a8"/><stop offset="0.8" stop-color="#555"/><stop offset="1" stop-color="#333"/></linearGradient>
<linearGradient id="gHole" x1="0" y1="0" x2="1" y2="0.3">
<stop offset="0" stop-color="#2e2e2e"/><stop offset="0.45" stop-color="#8a8a8a"/><stop offset="1" stop-color="#f4f4f4"/></linearGradient>
<linearGradient id="gSHubT" x1="232" y1="250" x2="254" y2="242" gradientUnits="userSpaceOnUse">
<stop offset="0" stop-color="#3a3a3a"/><stop offset="0.35" stop-color="#8a8a8a"/><stop offset="0.75" stop-color="#d8d8d8"/><stop offset="1" stop-color="#eaeaea"/></linearGradient>
<linearGradient id="gSlvT" x1="232" y1="256" x2="255" y2="244" gradientUnits="userSpaceOnUse">
<stop offset="0" stop-color="#505050"/><stop offset="0.3" stop-color="#a0a0a0"/><stop offset="0.65" stop-color="#e4e4e4"/><stop offset="1" stop-color="#f6f6f6"/></linearGradient>
<linearGradient id="gSlvB" x1="243" y1="292" x2="276" y2="275" gradientUnits="userSpaceOnUse">
<stop offset="0" stop-color="#e8e8e8"/><stop offset="0.4" stop-color="#9a9a9a"/><stop offset="1" stop-color="#3c3c3c"/></linearGradient>
<path d="M221.6 208.3 L222.8 207.6 L224.1 207.1 L225.4 206.6 L226.8 206.2 L228.3 205.9 L229.8 205.8 L231.3 205.7 L232.9 205.7 L234.5 205.9 L236.2 206.1 L237.9 206.5 L239.6 206.9 L241.4 207.4 L243.2 208.1 L245 208.8 L246.8 209.7 L248.6 210.6 L250.5 211.6 L252.3 212.8 L254.2 214 L267.3 207.7 L265.4 206.5 L263.6 205.3 L261.7 204.3 L259.9 203.4 L258.1 202.5 L256.3 201.8 L254.5 201.1 L252.7 200.6 L251 200.2 L249.3 199.8 L247.6 199.6 L246 199.4 L244.4 199.4 L242.9 199.5 L241.4 199.6 L239.9 199.9 L238.5 200.3 L237.2 200.8 L235.9 201.3 L234.7 202 Z" fill="url(#gSF1)" stroke="#231F20" stroke-width="0.6" stroke-linejoin="round"/>
<path d="M302.2 293.4 L302.4 295.7 L302.5 297.9 L302.6 300.1 L302.6 302.2 L302.5 304.3 L302.3 306.3 L302 308.2 L301.7 310 L301.3 311.8 L300.8 313.5 L300.2 315.1 L299.5 316.7 L298.8 318.1 L298 319.5 L297.2 320.8 L296.2 321.9 L295.2 323 L294.2 324 L293 324.9 L291.8 325.7 L304.9 319.4 L306.1 318.6 L307.3 317.7 L308.3 316.7 L309.3 315.6 L310.3 314.5 L311.1 313.2 L311.9 311.8 L312.6 310.4 L313.3 308.8 L313.9 307.2 L314.4 305.5 L314.8 303.7 L315.1 301.9 L315.4 300 L315.6 298 L315.7 295.9 L315.7 293.8 L315.6 291.6 L315.5 289.4 L315.3 287.1 Z" fill="url(#gSF2)" stroke="#231F20" stroke-width="0.6" stroke-linejoin="round"/>
<path d="M254.2 214 L267.3 207.7 L267.3 235.2 L281 228.5 L284 231 L254.2 246.6 Z" fill="#b2b2b2" stroke="#231F20" stroke-width="0.6" stroke-linejoin="round"/>
<path d="M302.2 293.4 L315.3 287.1 L289.4 270.3 L275.3 278.4 Z" fill="#adadad" stroke="#231F20" stroke-width="0.6" stroke-linejoin="round"/>
<path d="M302.2 293.4 L302.5 296.7 L302.6 299.8 L302.5 302.9 L302.3 305.8 L302 308.5 L301.4 311.2 L300.7 313.6 L299.9 315.9 L298.9 318.1 L297.7 320 L296.4 321.7 L295 323.3 L293.4 324.6 L291.7 325.8 L289.8 326.7 L287.9 327.4 L285.8 327.9 L283.6 328.2 L281.3 328.3 L279 328.1 L276.5 327.8 L274 327.2 L271.5 326.4 L268.8 325.3 L266.2 324.1 L263.4 322.7 L260.7 321 L258 319.2 L255.2 317.2 L252.5 315 L249.8 312.6 L247.1 310.1 L244.4 307.4 L241.8 304.6 L239.2 301.6 L236.7 298.5 L234.2 295.3 L231.9 292 L229.6 288.6 L227.5 285.1 L225.4 281.6 L223.4 278 L221.6 274.4 L219.9 270.7 L218.3 267 L216.9 263.4 L215.6 259.7 L214.5 256.1 L213.5 252.5 L212.6 249 L211.9 245.5 L211.4 242.1 L211.1 238.8 L210.9 235.6 L210.8 232.5 L211 229.5 L211.3 226.7 L211.7 224 L212.3 221.4 L213.1 219.1 L214.1 216.9 L215.2 214.8 L216.4 213 L217.8 211.4 L219.3 209.9 L221 208.7 L222.7 207.7 L224.7 206.9 L226.7 206.3 L228.8 205.9 L231 205.7 L233.4 205.8 L235.8 206 L238.2 206.5 L240.8 207.3 L243.4 208.2 L246.1 209.3 L248.7 210.7 L251.5 212.2 L254.2 214 L254.2 248.2 L262 262 L275.3 278.4 Z" fill="#fff" stroke="none"/>
<path d="M302.2 293.4 L302.5 296.7 L302.6 299.8 L302.5 302.9 L302.3 305.8 L302 308.5 L301.4 311.2 L300.7 313.6 L299.9 315.9 L298.9 318.1 L297.7 320 L296.4 321.7 L295 323.3 L293.4 324.6 L291.7 325.8 L289.8 326.7 L287.9 327.4 L285.8 327.9 L283.6 328.2 L281.3 328.3 L279 328.1 L276.5 327.8 L274 327.2 L271.5 326.4 L268.8 325.3 L266.2 324.1 L263.4 322.7 L260.7 321 L258 319.2 L255.2 317.2 L252.5 315 L249.8 312.6 L247.1 310.1 L244.4 307.4 L241.8 304.6 L239.2 301.6 L236.7 298.5 L234.2 295.3 L231.9 292 L229.6 288.6 L227.5 285.1 L225.4 281.6 L223.4 278 L221.6 274.4 L219.9 270.7 L218.3 267 L216.9 263.4 L215.6 259.7 L214.5 256.1 L213.5 252.5 L212.6 249 L211.9 245.5 L211.4 242.1 L211.1 238.8 L210.9 235.6 L210.8 232.5 L211 229.5 L211.3 226.7 L211.7 224 L212.3 221.4 L213.1 219.1 L214.1 216.9 L215.2 214.8 L216.4 213 L217.8 211.4 L219.3 209.9 L221 208.7 L222.7 207.7 L224.7 206.9 L226.7 206.3 L228.8 205.9 L231 205.7 L233.4 205.8 L235.8 206 L238.2 206.5 L240.8 207.3 L243.4 208.2 L246.1 209.3 L248.7 210.7 L251.5 212.2 L254.2 214" fill="none" stroke="#231F20" stroke-width="0.6"/>
<ellipse cx="229.1" cy="226.1" rx="9.9" ry="5.6" transform="rotate(59.1 229.1 226.1)" fill="url(#gHole)" stroke="#231F20" stroke-width="0.6" stroke-linejoin="round"/>
<ellipse cx="276.3" cy="310.5" rx="9.9" ry="5.6" transform="rotate(59.1 276.3 310.5)" fill="url(#gHole)" stroke="#231F20" stroke-width="0.6" stroke-linejoin="round"/>
</g>
<g id="sfhub">
<path d="M230.7 250.8 Q231.5 246.5 236 243.5 Q242 239.6 249.4 241.1 L254.3 243.9 L254.3 250 L232 262 L229.5 258 Z" fill="#fff" stroke="#231F20" stroke-width="0.6" stroke-linejoin="round"/>
<path d="M230.7 250.8 Q231.5 246.5 236 243.5 Q242 239.6 249.4 241.1 L254.3 243.9 L249.4 246.5 Q244 245.8 240 248 Q236.5 250 235.5 253.5 Z" fill="url(#gSHubT)" stroke="#231F20" stroke-width="0.6" stroke-linejoin="round"/>
<path d="M219.6 263.5 L254.2 246.6 L284 231 L300 250 L305.1 259.4 L244.6 298.8 L243.2 291.1 L232 286 L222 281 L216 276 L215.4 270 Z" fill="#fff" stroke="none"/>
<path d="M256.4 292 Q262 296.5 269 293 Q273.5 290 274.5 283 L277 281.5 Q279.5 288 274 294 Q267 299.5 258 296.5 Z" fill="#fff" stroke="#231F20" stroke-width="0.6" stroke-linejoin="round"/>
<path d="M264.7 285.6 L275.3 278.4 L276.5 283 Q275.5 290 269 293 Q263 295.5 258.5 293.2 Z" fill="#fff" stroke="#231F20" stroke-width="0.6" stroke-linejoin="round"/>
<path d="M219.6 263.4 L246.7 249.4 L254 246.6 L254.2 256 L231.5 269 Q225.5 264 219.6 263.4 Z" fill="url(#gSlvT)" stroke="#231F20" stroke-width="0.6" stroke-linejoin="round"/>
<path d="M230.7 267.5 L283 237.5" stroke="#231F20" stroke-width="0.6" fill="none"/>
<path d="M232.8 269.6 L285 239.6" stroke="#231F20" stroke-width="0.6" fill="none"/>
<path d="M254.2 256 L282 240.5" stroke="#231F20" stroke-width="0.6" fill="none"/>
<path d="M219.6 263.4 Q215 267.5 215.4 272 Q215.8 277.5 222 282" fill="none" stroke="#231F20" stroke-width="0.6" stroke-linejoin="round"/>
<path d="M230.7 267.5 Q224.5 265.3 220.5 269 Q217.6 272.5 218.6 277.5" fill="none" stroke="#231F20" stroke-width="0.6" stroke-linejoin="round"/>
<path d="M224.4 280.4 L251.5 264.5" stroke="#4a4a4a" stroke-width="2.6" fill="none" stroke-linecap="butt" stroke-dasharray="0.65 0.65"/>
<path d="M232.1 285.4 L253.4 272.4" stroke="#4a4a4a" stroke-width="2.6" fill="none" stroke-linecap="butt" stroke-dasharray="0.65 0.65"/>
<path d="M223.6 279.2 L250.8 263.2" stroke="#231F20" stroke-width="0.6" fill="none"/>
<path d="M225.3 281.8 L252.3 265.9" stroke="#231F20" stroke-width="0.6" fill="none"/>
<path d="M231.2 284.2 L252.6 271.1" stroke="#231F20" stroke-width="0.6" fill="none"/>
<path d="M233 286.8 L254.2 273.8" stroke="#231F20" stroke-width="0.6" fill="none"/>
<path d="M250.8 263.2 Q255 264 256 268.5 Q256.5 272 254.2 273.8" fill="#6a6a6a" stroke="#231F20" stroke-width="0.6" stroke-linejoin="round"/>
<path d="M256.4 270.3 L295 248" stroke="#231F20" stroke-width="0.6" fill="none"/>
<path d="M253 274 L297 252.5" stroke="#231F20" stroke-width="0.6" fill="none"/>
<path d="M242.5 289 L300 256" stroke="#231F20" stroke-width="0.6" fill="none"/>
<path d="M243.2 291.1 L301.5 258.3" stroke="#231F20" stroke-width="0.6" fill="none"/>
<path d="M243.2 291.1 L266.1 278.6 L264.7 285.6 L244.6 298.8 Z" fill="url(#gSlvB)" stroke="#231F20" stroke-width="0.6" stroke-linejoin="round"/>
</g>

<!-- orange -->
<g id="orange">
<path class="o" d="M92.4 265.9 L92.4 603.3 A45 24.7 0 0 0 182.4 603.3 L182.4 378" />
<path class="o" d="M85.9 179.2 C84.1 177.9 77.5 174.2 74.8 171.7 C72.1 169.2 70.8 166.8 69.9 164.3 C69 161.9 68.9 160.1 69.3 157 C69.7 153.9 70.2 149.3 72.3 145.8 C74.3 142.3 78.3 138.6 81.6 135.9 C84.9 133.2 87.5 131.8 92.1 129.8 C96.7 127.9 103.2 125.7 109.4 124.2 C115.6 122.8 123 121.6 129.1 121.1 C135.2 120.6 139.7 120.4 146 121 C152.3 121.6 160 122.8 167 124.7 C174 126.6 184.5 131 188 132.3" />
<path class="o" d="M69.3 157 L69.3 205" />
<path class="o" d="M69.3 205 C69.5 206.2 69.5 210.2 70.3 212.5 C71.1 214.8 72.4 217 74 219 C75.6 221 77.8 222.8 79.8 224.3 C81.7 225.8 84.9 227.4 85.9 228" />
<path class="o" d="M69.3 178.6 C69.4 179.8 69 183.5 69.9 186 C70.8 188.5 72.1 191 74.8 193.7 C77.5 196.4 84.1 200.6 85.9 202" />
<path class="o" d="M85.9 179.2 L85.9 228 L92.6 237.3 L92.4 254.1" />
<path class="o" d="M79.7 224.3 L79.7 247.3" />
<path class="o" d="M79.7 247.3 C79.9 248.3 80.2 251.4 81.1 253.5 C81.9 255.6 82.9 257.6 84.8 259.7 C86.7 261.8 89.1 264 92.2 265.9 C95.3 267.8 99.6 269.5 103.3 270.8 C107 272.1 112.6 273.4 114.4 273.9" />
<path class="o" d="M85.9 179.2 L91.5 176.7 L91.5 174.3 Q91.6 172.8 93.2 172.7 L100.6 172.6 L172.6 139.6 L172.6 137 Q172.7 135.4 174.3 135.3 L181.2 135.2 L188 132.3" />
<path class="o" d="M91.5 176.7 L91.5 217 L95.8 220.6 L100.4 217 L100.4 172.6" />
<path class="o" d="M91.5 197.0 Q95.9 198.6 100.4 197.0" stroke-width="0.7"/>
<path class="o" d="M91.5 199.6 Q95.9 201.2 100.4 199.6" stroke-width="0.7"/>
<path class="o" d="M91.5 202.2 Q95.9 203.8 100.4 202.2" stroke-width="0.7"/>
<path class="o" d="M91.5 204.8 Q95.9 206.4 100.4 204.8" stroke-width="0.7"/>
<path class="o" d="M91.5 207.4 Q95.9 209.0 100.4 207.4" stroke-width="0.7"/>
<path class="o" d="M91.5 210.0 Q95.9 211.6 100.4 210.0" stroke-width="0.7"/>
<path class="o" d="M91.5 212.6 Q95.9 214.2 100.4 212.6" stroke-width="0.7"/>
<path class="o" d="M91.5 215.2 Q95.9 216.8 100.4 215.2" stroke-width="0.7"/>
<path class="o" d="M172.6 139.6 L172.6 179 L176.9 183 L181.2 179 L181.2 135.2" />
<path class="o" d="M172.6 157.6 Q176.9 159.2 181.2 157.6" stroke-width="0.7"/>
<path class="o" d="M172.6 160.0 Q176.9 161.6 181.2 160.0" stroke-width="0.7"/>
<path class="o" d="M172.6 162.4 Q176.9 164.0 181.2 162.4" stroke-width="0.7"/>
<path class="o" d="M172.6 164.8 Q176.9 166.4 181.2 164.8" stroke-width="0.7"/>
<path class="o" d="M172.6 167.2 Q176.9 168.8 181.2 167.2" stroke-width="0.7"/>
<path class="o" d="M172.6 169.6 Q176.9 171.2 181.2 169.6" stroke-width="0.7"/>
<path class="o" d="M172.6 172.0 Q176.9 173.6 181.2 172.0" stroke-width="0.7"/>
<path class="o" d="M172.6 174.4 Q176.9 176.0 181.2 174.4" stroke-width="0.7"/>
<path class="o" d="M172.6 176.8 Q176.9 178.4 181.2 176.8" stroke-width="0.7"/>
<path class="o" d="M188 132.3 L188 179" />
<path class="o" d="M188 179 C187.9 179.9 187.9 182.8 187.3 184.5 C186.7 186.2 184.9 187.9 184.2 189.5 C183.5 191.1 183.3 193.2 183.1 194" />
<path class="o" d="M183.1 194 L183.1 208.9 L172.8 213.6" />
<path class="o" d="M181.2 158.6 L188 155.6" />
<path class="o" d="M85.9 202 L91.5 199.5 M100.4 195.8 L108 192 L108 211.7" />
<path class="o" d="M108 211.7 C107.9 212.3 107.7 214.3 107.3 215.5 C106.9 216.7 106 218 105.6 219.1 C105.2 220.2 105.1 217.2 105 222 C104.9 226.8 105 243.7 105 248" />
<path class="o" d="M172.6 163 L167.3 165.4 L167.3 170.4 L172.6 173.5" />
<path class="o" d="M122.2 191.4 L159.3 174.1 M164 172 L167.3 170.4" />
<path class="o" d="M115.5 195 Q115.2 187.5 117.3 185.8 Q119.4 187.5 119.1 195 Z" fill="#fff"/>
<path class="o" d="M159.9 174.7 Q159.6 167 161.7 165.4 Q163.8 167 163.5 174.7 Z" fill="#fff"/>
<path class="o" d="M109.3 197.5 L122.8 191.4 L129.6 194.4 L116 201.2 Z" />
<path class="o" d="M109.3 197.5 L109.3 199 L116 202.8 L129.6 196" />
<path class="o" d="M116 201.2 L116 222.8 L129 230" />
<path class="o" d="M129.2 194.8 L129.2 230 M130.4 195 L130.4 231" />
<path class="o" d="M130.4 218.5 L146.9 210.5 L146.9 179.8" />
<path class="o" d="M171.5 173.2 L160.4 178.4 Q158.1 179.6 158 182 L158 215.8 Q158 218 156 219 L130.4 231" />
<path class="o" d="M172.2 175.2 L161.6 180 Q160.2 180.8 160.2 182.6 L160.2 216.8 Q160.2 219.3 158 220.3 L131 233" />
<path class="o" d="M169.1 177.8 C169.4 178.4 170.4 180.1 171 181.5 C171.6 182.9 172.5 184.6 172.8 186 C173.1 187.4 172.8 189.3 172.8 190" />
<path class="o" d="M172.8 190 L172.8 213.6" />
<path class="o" d="M172.8 213.6 C173.2 214.3 174.8 216.3 175.5 218 C176.2 219.7 177.2 221.7 177.2 224 C177.2 226.3 176.7 229.4 175.7 231.7 C174.7 233.9 172.2 235.7 171 237.5 C169.8 239.3 168.5 241.3 168.3 242.8 C168.1 244.3 169.2 245.5 170 246.5 C170.8 247.5 172.7 248.6 173.2 249" />
<path class="o" d="M183.1 208.9 C183.8 209.8 186.3 211.8 187.5 214 C188.7 216.2 190.1 219.2 190.5 221.9 C190.9 224.6 190.2 227.5 189.8 230 C189.4 232.5 188.7 234.4 188 236.7 C187.3 239 185.8 242.2 185.6 244 C185.4 245.8 186.4 246.7 187 247.5 C187.6 248.3 188.9 248.8 189.3 249" />
<path class="o" d="M92.4 254.1 L105.2 248 L123.1 254.1 L114.4 262.8" />
<path class="o" d="M92.4 254.1 C94.2 255 99.3 258.1 103 259.5 C106.7 260.9 112.5 262.2 114.4 262.8" />
<path class="o" d="M114.4 262.8 L114.4 273.9 L123.1 265.8 L123.1 254.1" />
<path class="o" d="M114.4 273.9 L106.4 285.6 L111.4 299.2 L104.1 318 L110.6 328.1 L107.8 346.7 L112.4 357.8 L105.9 378.1 L113.3 393 L107.5 410 L112 428 L105.5 446 L109.5 452 L105.2 470 L111 488 L106 506 L109.6 529.3 L105.9 540.4 L107.8 545.9 L116.1 555.2 L116.7 559.8 L122.6 567.2 L123 572.8 L126.3 575.6 L140.2 578.9 L152.6 566.3 L154.1 567.2 L166.7 557 L164.3 545.9 L167.4 536.7 L163.7 529.3 L166.1 521.9 L163 508 L168 494 L164 478 L171.6 463 L165 446 L170.5 440 L165.5 424 L168 408 L161.5 400 L165.6 387.4 L161.5 380 L162.4 364.5" />
<path class="o" d="M81.6 135.9 L81.6 142.7 L85.9 145.2 L92.7 145.2 L97 142.3 L97 136.5 L94.6 131.6 L89 129.5 L84.1 131.6 Z" fill="#fff"/>
<path class="o" d="M81.6 135.9 L85.9 139.2 L92.7 139.2 L97 136.5" stroke-width="0.7"/>
<path class="o" d="M85.9 139.2 L85.9 145.2 M92.7 139.2 L92.7 145.2" stroke-width="0.7"/>
<ellipse class="o" cx="89.0" cy="134.0" rx="5.3" ry="3.2" stroke-width="0.7"/>
<ellipse class="o" cx="89.0" cy="132.8" rx="3.7" ry="2.2" stroke-width="0.7"/>
<path class="o" d="M130 119.5 L130 126.3 L134.3 128.8 L141.1 128.8 L145.4 125.9 L145.4 120.1 L143 115.2 L137.4 113.1 L132.5 115.2 Z" fill="#fff"/>
<path class="o" d="M130 119.5 L134.3 122.8 L141.1 122.8 L145.4 120.1" stroke-width="0.7"/>
<path class="o" d="M134.3 122.8 L134.3 128.8 M141.1 122.8 L141.1 128.8" stroke-width="0.7"/>
<ellipse class="o" cx="137.4" cy="117.6" rx="5.3" ry="3.2" stroke-width="0.7"/>
<ellipse class="o" cx="137.4" cy="116.4" rx="3.7" ry="2.2" stroke-width="0.7"/>
<path class="o" d="M130.9 288.5 L148.5 280.2" />
<path class="o" d="M139.3 292.2 L154 285.7" />
<path class="o" d="M130.9 288.5 L139.3 292.2 L140.2 295" />
<path class="o" d="M140.2 295 C140.3 295.6 140.5 297.7 141.1 298.7 C141.7 299.7 142.8 301 143.9 301.1 C145 301.2 147 299.9 147.6 299.6" />
<path class="o" d="M147.6 299.6 L161.5 292.2" />
<path class="o" d="M155 286.3 L168 278.3 Q172 277 173.6 280 Q174.5 282.5 173.5 283.9 L161.5 292.2" fill="#fff"/>
<path class="o" d="M157.6 284.8 Q161.8 286.3 162.2 290.0" stroke-width="0.7"/>
<path class="o" d="M159.9 283.4 Q164.1 284.9 164.5 288.6" stroke-width="0.7"/>
<path class="o" d="M162.2 281.9 Q166.4 283.4 166.8 287.1" stroke-width="0.7"/>
<path class="o" d="M164.5 280.4 Q168.7 281.9 169.1 285.6" stroke-width="0.7"/>
<path class="o" d="M166.8 279.0 Q171.0 280.5 171.4 284.2" stroke-width="0.7"/>
<path class="o" d="M161.5 292.2 L174.4 297.8 L178.5 295" />
<path class="o" d="M178.5 295 C178.9 294.1 180 291.2 180.9 289.4 C181.8 287.5 182.6 285.3 183.7 283.9 C184.8 282.5 186.8 281.6 187.4 281.1" />
<path class="o" d="M178.5 295 L184.6 298.7" />
<path class="o" d="M147.6 299.6 L206.9 345" />
<path class="o" d="M174.4 297.8 L202.2 318.1 L214.8 329.3" />
<path class="o" d="M202.2 318.1 L207.8 315.4 L211.5 316.3" />
<path class="o" d="M200.4 337.6 L217 329.3" />
<path class="o" d="M200.4 337.6 C200.7 338.4 201.1 341 202.2 342.2 C203.3 343.4 205.7 345.1 206.9 345 C208.1 344.9 209.2 341.9 209.6 341.3" />
<path class="o" d="M209.6 341.3 L224.4 333.9" />
<path class="o" d="M210.2 341.3 L300.9 294.1" />
<path class="o" d="M214.8 329.3 L228.5 320.5 Q232.5 319.5 234 322.5 Q235 325 234 326.8 L222.5 334.8" fill="#fff"/>
<path class="o" d="M217.4 327.8 Q221.6 329.3 222.0 333.0" stroke-width="0.7"/>
<path class="o" d="M219.7 326.4 Q223.9 327.9 224.3 331.6" stroke-width="0.7"/>
<path class="o" d="M222.0 324.9 Q226.2 326.4 226.6 330.1" stroke-width="0.7"/>
<path class="o" d="M224.3 323.4 Q228.5 324.9 228.9 328.6" stroke-width="0.7"/>
<path class="o" d="M226.6 322.0 Q230.8 323.5 231.2 327.2" stroke-width="0.7"/>
<path class="o" d="M206.9 345 L215.2 348.7 L288.9 312" />
<path class="o" d="M130.9 288.5 C131.4 293.1 131.7 307.7 133.7 316.3 C135.7 324.9 138.7 333 143 340.4 C147.3 347.8 153.1 354.8 159.6 360.7 C166.1 366.6 175.4 372.4 181.9 375.6 C188.4 378.9 193.9 380.2 198.5 380.2 C203.1 380.2 206.7 379.2 209.6 375.6 C212.5 372.1 215.2 363.5 216.1 358.9 C217 354.3 215.3 349.6 215.2 347.8" />
<path class="o" d="M230.3 338 C230.4 340.2 231.6 347.1 230.9 351.5 C230.2 355.9 228.6 360.4 226.3 364.4 C224 368.4 220.7 372.9 217 375.6 C213.3 378.3 206.2 379.9 204 380.7" />
<path class="o" d="M226.3 364.4 L288.9 325.6" />
<path class="o" d="M254.3 214.9 L257.6 215.8 L261 217 L264.4 218.5 L267.8 220.4 L271.1 222.6 L274.4 225.1 L277.6 227.9 L280.7 230.9 L283.6 234.2 L286.4 237.7 L289 241.4 L291.4 245.2 L293.6 249.2 L295.6 253.2 L297.3 257.3 L298.7 261.5 L299.9 265.7 L300.8 269.8 L301.4 273.9 L301.7 277.9 L301.7 281.8 L301.4 285.5 L300.8 289 L299.9 292.4" />
<path class="o" d="M173.2 249 C173.7 249.3 174.9 250.3 176 251 C177.1 251.7 178.7 252.3 180 253.2 C181.3 254.1 182.8 255.6 184 256.5 C185.2 257.4 186.5 258.4 187 258.8" />
<path class="o" d="M189.3 249 C189.2 248.8 188.2 248 188.5 247.8 C188.8 247.6 189.8 247.5 191 247.6 C192.2 247.7 194.8 248.4 195.5 248.6" />
<path class="o" d="M195.5 248.6 L210.9 239.4 L229.4 249.4 L231 250.3" />
<path class="o" d="M189.3 260.2 L206.3 271.8 L217.9 265.6" />
</g>

<!-- float -->
<g id="float">
<!-- rod -->
<path d="M135.3 277 L135.3 361 L139 361 L139 277 Z" fill="#e9e9e9" stroke="none"/>
<path d="M135.4 277 L135.4 360 M138.8 277 L138.8 360" stroke="#4a4a4a" stroke-width="0.55" fill="none"/>
<!-- body -->
<path d="M117.5 361.6 L117.5 543 A20 10.7 0 0 0 157.4 543 L157.4 361.6 Z" fill="url(#gFloat)" stroke="#2a2a2a" stroke-width="0.6"/>
<ellipse cx="137.45" cy="361.6" rx="19.95" ry="10.8" fill="#fbfbfb" stroke="#231F20" stroke-width="0.8"/>
<path d="M135.3 340 L135.3 361 L139 361 L139 340 Z" fill="#e9e9e9" stroke="none"/>
<path d="M135.4 340 L135.4 360.5 M138.8 340 L138.8 360.5" stroke="#4a4a4a" stroke-width="0.55" fill="none"/>
<ellipse cx="137.3" cy="361.8" rx="3.7" ry="1.9" fill="#e8e8e8" stroke="#231F20" stroke-width="0.6"/>
</g>

<!-- lever -->
<g id="lever">
<linearGradient id="gLev" x1="140" y1="242" x2="226" y2="302" gradientUnits="userSpaceOnUse">
<stop offset="0" stop-color="#3a3a3a"/><stop offset="0.1" stop-color="#7a7a7a"/><stop offset="0.24" stop-color="#f2f2f2"/><stop offset="0.36" stop-color="#b0b0b0"/><stop offset="0.5" stop-color="#7a7a7a"/><stop offset="0.7" stop-color="#4c4c4c"/><stop offset="0.85" stop-color="#2e2e2e"/><stop offset="1" stop-color="#222"/></linearGradient>
<path d="M198.5 304.4 L210.2 298.2 L229 306 L226.3 309.3 L212.1 315.6 Q207.5 317 204.5 314 Q200.5 310 198.5 304.4 Z" fill="#f4f4f4" stroke="#231F20" stroke-width="0.6" stroke-linejoin="round"/>
<path d="M200.5 308.5 L212.5 313 L226 307" fill="none" stroke="#231F20" stroke-width="0.6" stroke-linejoin="round"/>
<path d="M136 231 L230.6 292 L226.3 295.7 L140.4 236 Z" fill="#f6f6f6" stroke="#231F20" stroke-width="0.6" stroke-linejoin="round"/>
<path d="M140.4 236 L226.3 295.7 L226.3 309.3 L140.4 249 Z" fill="url(#gLev)" stroke="#231F20" stroke-width="0.6" stroke-linejoin="round"/>
<path d="M226.3 295.7 L230.6 292 L230.6 303.8 L226.3 309.3 Z" fill="#e2e2e2" stroke="#231F20" stroke-width="0.6" stroke-linejoin="round"/>
<ellipse cx="214.2" cy="301.8" rx="3.3" ry="5.6" transform="rotate(-18 214.2 301.8)" fill="#e8e8e8" stroke="#231F20" stroke-width="0.6" stroke-linejoin="round"/>
<ellipse cx="202.8" cy="286.5" rx="2.9" ry="4.2" transform="rotate(-25 202.8 286.5)" fill="#fff" stroke="#231F20" stroke-width="0.6" stroke-linejoin="round"/>
<path d="M201.8 283.6 L203.9 289.5" fill="none" stroke="#231F20" stroke-width="0.6" stroke-linejoin="round"/>
<ellipse cx="219.5" cy="298.8" rx="2.9" ry="4.2" transform="rotate(-25 219.5 298.8)" fill="#fff" stroke="#231F20" stroke-width="0.6" stroke-linejoin="round"/>
<path d="M218.5 295.9 L220.6 301.8" fill="none" stroke="#231F20" stroke-width="0.6" stroke-linejoin="round"/>
<path d="M206.5 276.6 Q208 273.5 212 274.2 L238.6 290.8 L230.6 292 Z" fill="#fff" stroke="#231F20" stroke-width="0.6" stroke-linejoin="round"/>
<path d="M230.6 292 L238.6 290.8 Q240.5 295 239 300.5 L230.6 303.8 Z" fill="#fff" stroke="#231F20" stroke-width="0.6" stroke-linejoin="round"/>
<path d="M215.5 281 L219 279.3 L223.5 282 Q224.3 283.5 222.8 284.6 L220 286 Z" fill="#fff" stroke="#231F20" stroke-width="0.6" stroke-linejoin="round"/>
<path d="M138.5 252 L150.2 259.4 L150.2 275.5 L144.7 278.6 L144.7 263.5 L138.5 258.5 Z" fill="#d6d6d6" stroke="#231F20" stroke-width="0.6" stroke-linejoin="round"/>
<path d="M145.3 262.5 L147.8 261.3 L147.8 273.5 L145.3 275 Z" fill="#8a8a8a" stroke="#231F20" stroke-width="0.6" stroke-linejoin="round"/>
<path d="M129.3 252 L129.3 270.6 L141.6 279.8 L143.5 278.4 L143.5 262.5 L131.7 254.5 Z" fill="#ececec" stroke="#231F20" stroke-width="0.6" stroke-linejoin="round"/>
<path d="M131.7 254.5 L138.5 252 L150.2 259.4 L143.5 262.5 Z" fill="#fafafa" stroke="#231F20" stroke-width="0.6" stroke-linejoin="round"/>
<circle cx="134.8" cy="266.9" r="1.2" fill="#fff" stroke="#231F20" stroke-width="0.6" stroke-linejoin="round"/>
<path d="M129.3 254 L129.3 236.5 Q129.5 231.6 134.5 231.4 Q139.6 231.6 139.8 236.5 L139.8 252 L135.4 254.5 L135.4 237.5 Q135.3 235.6 134.2 235.6 Q133 235.7 133 237.5 L133 254.5 Z" fill="#e6e6e6" stroke="#231F20" stroke-width="0.6" stroke-linejoin="round"/>
<path d="M136 231 Q141.5 232.5 141.8 238 L141.8 250.5 L139.8 252" fill="none" stroke="#231F20" stroke-width="0.6" stroke-linejoin="round"/>
</g>

<!-- mech_small -->
<g id="mech_small" transform="translate(269.5 -117.6) scale(0.5)"><use href="#mech"/></g>

<!-- inset -->
<g id="inset">
<circle cx="448.9" cy="441.4" r="159.3" fill="#fff" stroke="none"/>
<path d="M529.3 326.3 L546.3 311.7 Q552.1 292.2 547.1 276.2" stroke="#3c3c3c" stroke-width="0.6" fill="none"/>
<path d="M530.7 327.2 L547.8 312.7 Q553.9 293.3 549.1 276.6" stroke="#3c3c3c" stroke-width="0.6" fill="none"/>
<path d="M532.1 328.2 L549.4 313.7 Q555.8 294.3 551.0 277.0" stroke="#3c3c3c" stroke-width="0.6" fill="none"/>
<path d="M533.4 329.1 L550.9 314.8 Q557.6 295.3 553.0 277.5" stroke="#3c3c3c" stroke-width="0.6" fill="none"/>
<path d="M534.8 330.1 L552.5 315.8 Q559.5 296.3 555.0 277.9" stroke="#3c3c3c" stroke-width="0.6" fill="none"/>
<path d="M536.2 331.0 L554.0 316.8 Q561.3 297.3 556.9 278.3" stroke="#3c3c3c" stroke-width="0.6" fill="none"/>
<path d="M537.6 332.0 L555.6 317.8 Q563.2 298.3 558.9 278.7" stroke="#3c3c3c" stroke-width="0.6" fill="none"/>
<path d="M538.9 332.9 L557.1 318.9 Q565.0 299.3 560.9 279.2" stroke="#3c3c3c" stroke-width="0.6" fill="none"/>
<path d="M540.3 333.9 L558.7 319.9 Q566.9 300.3 562.8 279.6" stroke="#3c3c3c" stroke-width="0.6" fill="none"/>
<path d="M541.7 334.8 L560.2 320.9 Q568.7 301.4 564.8 280.0" stroke="#3c3c3c" stroke-width="0.6" fill="none"/>
<circle cx="448.9" cy="441.4" r="159.3" fill="none" stroke="#231F20" stroke-width="4.3"/>
<use href="#mech"/>
<path d="M356 483.4 L389.3 397 Q390.8 390.2 385.6 388 Q379 386.6 374.4 393 Q372.4 397.5 372 403.4" stroke="#555" stroke-width="0.6" stroke-dasharray="2.6 1.5" fill="none"/>
<path d="M358.6 484.4 L391.6 398 Q393.6 388.8 386.2 385.8 Q378 384.2 372.4 391.8 Q369.9 397 369.6 403" stroke="#555" stroke-width="0.6" stroke-dasharray="2.6 1.5" fill="none"/>
<path d="M325.2 535 L372.8 508 Q377.5 508.5 377.6 513 L329 541.2 Z" fill="url(#mRod)" stroke="#231F20" stroke-width="0.7" stroke-linejoin="round" vector-effect="non-scaling-stroke"/>
<ellipse cx="375.3" cy="510.6" rx="2.4" ry="3.4" transform="rotate(30 375.3 510.6)" fill="#f0f0f0" stroke="#231F20" stroke-width="0.7" stroke-linejoin="round" vector-effect="non-scaling-stroke"/>
<path d="M317.5 518.5 L334 510.8 L336 514.2 Q352 514 364.5 532 L369.4 529.3 L376.6 550.6 L352.2 539.8 L357.6 536.5 Q347.5 521.5 331.5 520.2 Q325 520 321.5 522.8 L322.5 519.5 Z" fill="#1a1a1a" stroke="#1a1a1a" stroke-width="0.6" stroke-linejoin="round"/>
<path d="M321 521 Q326 517.8 334.5 517.8" stroke="#fff" stroke-width="0.9" fill="none"/>
</g>

<!-- labels -->
<g id="labels">
<path d="M219.7 449.1 L222.4 449.1 L222.4 463.6 L219.4 463.6 L219.4 452.7 L216.6 452.7 L216.6 450.6 Q218.9 450.3 219.7 449.1 Z" fill="#626366"/>
<text class="lab" x="214.2" y="494.8">2</text>
<text class="lab" x="218" y="162.4">3</text>
<text class="lab" x="270" y="131.3">4</text>
<text class="lab" x="240" y="149.3">5</text>
<text class="lab" x="295.2" y="118.3">6</text>
<text class="lab" x="403.4" y="340.4">7</text>
<text class="lab" x="443" y="329.3">8</text>
<text class="lab" x="316.2" y="473.6">6</text>
<g class="ld">
<path d="M210.7 455.3 L178 442.8"/>
<path d="M210.2 486.5 L158 478.2"/>
<path d="M223.4 163.6 L188.6 252"/>
<path d="M249.8 148.4 L299 214.5"/>
<path d="M285 128 L386 180.5"/>
<path d="M306 113 L404 164.5"/>
<path d="M412.3 341.6 L440 380"/>
<path d="M454.8 329.3 L478 351"/>
<path d="M324 474 L350 508"/>
</g>
<g class="ah">
<path d="M172 440.5 L181.6 438.3 L183.3 447.6 Z"/>
<path d="M151.2 477 L163.8 475.9 L162.3 482 Z"/>
<path d="M184.8 261.3 L186.5 250.6 L191.8 252.7 Z"/>
<path d="M304.1 222.3 L294 216 L299.7 211.6 Z"/>
<path d="M393.6 184.7 L381.7 182.3 L384.6 176.4 Z"/>
<path d="M412 168.6 L400.2 166 L403.1 160.2 Z"/>
<path d="M444.4 386 L436.2 378.5 L441.3 374.8 Z"/>
<path d="M485.2 357.7 L474 352.6 L478.6 347.8 Z"/>
<path d="M355.3 514.8 L346 507.5 L351 503.8 Z"/>
</g>
</g>

</svg>
</body></html>
